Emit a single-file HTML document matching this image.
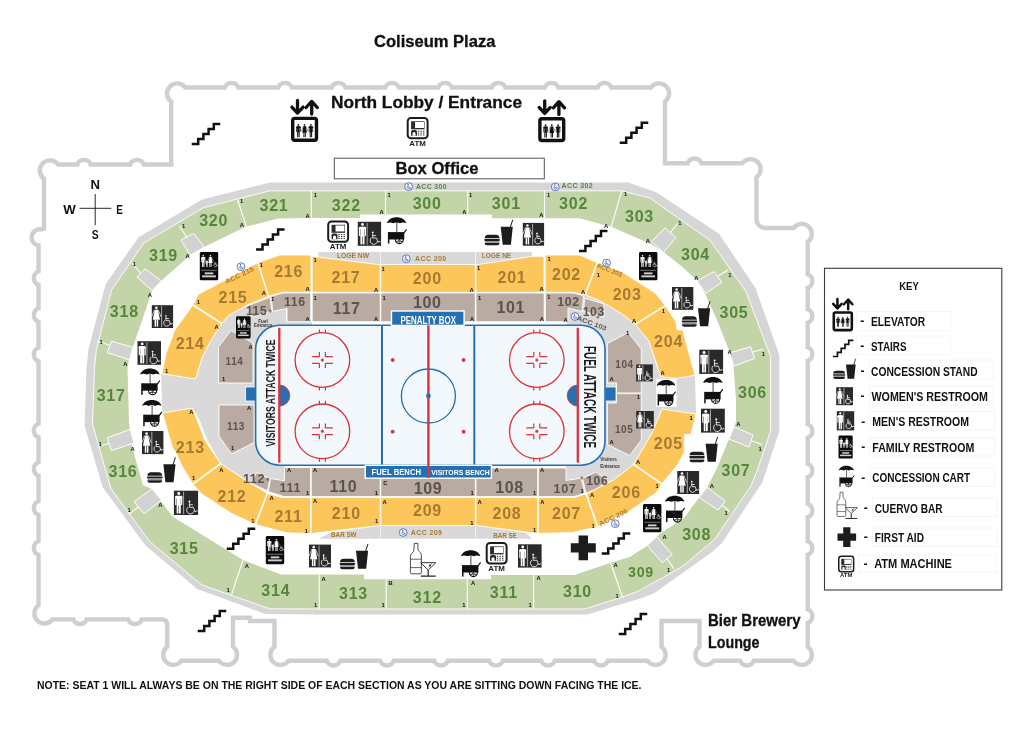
<!DOCTYPE html>
<html><head><meta charset="utf-8"><title>Coliseum Seating Map</title>
<style>html,body{margin:0;padding:0;background:#fff}svg{display:block;will-change:transform;opacity:0.999}text{font-family:"Liberation Sans",sans-serif}</style>
</head><body>
<svg width="1024" height="736" viewBox="0 0 1024 736">
<rect width="1024" height="736" fill="#fff"/>
<path d="M171.20,101.62 A10.1,10.1 0 1 1 185.32,87.50 L224.70,87.50 A7.3,7.3 0 0 1 238.30,87.50 L278.20,87.50 A7.3,7.3 0 0 1 291.80,87.50 L331.70,87.50 A7.3,7.3 0 0 1 345.30,87.50 L385.20,87.50 A7.3,7.3 0 0 1 398.80,87.50 L438.20,87.50 A7.3,7.3 0 0 1 451.80,87.50 L491.70,87.50 A7.3,7.3 0 0 1 505.30,87.50 L544.70,87.50 A7.3,7.3 0 0 1 558.30,87.50 L597.70,87.50 A7.3,7.3 0 0 1 611.30,87.50 L650.88,87.50 A10.1,10.1 0 1 1 665.00,101.62 L665.00,163.20 L687.70,163.20 A7.3,7.3 0 0 1 701.30,163.20 L742.38,163.20 A10.1,10.1 0 1 1 756.50,177.32 L756.50,219.00 A9.0,9.0 0 0 0 765.50,228.00 L793.58,228.00 A10.1,10.1 0 1 1 807.70,242.12 L807.70,274.20 A7.3,7.3 0 0 1 807.70,287.80 L807.70,309.20 A7.3,7.3 0 0 1 807.70,322.80 L807.70,347.20 A7.3,7.3 0 0 1 807.70,360.80 L807.70,424.20 A7.3,7.3 0 0 1 807.70,437.80 L807.70,463.70 A7.3,7.3 0 0 1 807.70,477.30 L807.70,503.70 A7.3,7.3 0 0 1 807.70,517.30 L807.70,541.20 A7.3,7.3 0 0 1 807.70,554.80 L807.70,609.20 A7.3,7.3 0 0 1 807.70,622.80 L807.70,646.68 A10.1,10.1 0 1 1 793.58,660.80 L753.80,660.80 A7.3,7.3 0 0 1 740.20,660.80 L713.62,660.80 A10.1,10.1 0 1 1 699.50,646.68 L699.50,621.00 L661.50,621.00 L661.50,646.68 A10.1,10.1 0 1 1 647.38,660.80 L607.80,660.80 A7.3,7.3 0 0 1 594.20,660.80 L554.80,660.80 A7.3,7.3 0 0 1 541.20,660.80 L502.80,660.80 A7.3,7.3 0 0 1 489.20,660.80 L447.80,660.80 A7.3,7.3 0 0 1 434.20,660.80 L393.80,660.80 A7.3,7.3 0 0 1 380.20,660.80 L340.30,660.80 A7.3,7.3 0 0 1 326.70,660.80 L288.62,660.80 A10.1,10.1 0 1 1 274.50,646.68 L274.50,621.00 L250.00,621.00 L250.00,617.80 L233.00,617.80 L233.00,646.68 A10.1,10.1 0 1 1 218.88,660.80 L181.42,660.80 A10.1,10.1 0 1 1 167.30,646.68 L167.30,624.40 A5.0,5.0 0 0 0 162.30,619.40 L141.80,619.40 A7.3,7.3 0 0 1 128.20,619.40 L86.80,619.40 A7.3,7.3 0 0 1 73.20,619.40 L52.62,619.40 A10.1,10.1 0 1 1 38.50,605.28 L38.50,554.80 A7.3,7.3 0 0 1 38.50,541.20 L38.50,514.80 A7.3,7.3 0 0 1 38.50,501.20 L38.50,475.80 A7.3,7.3 0 0 1 38.50,462.20 L38.50,437.30 A7.3,7.3 0 0 1 38.50,423.70 L38.50,361.40 A7.3,7.3 0 0 1 38.50,347.80 L38.50,321.80 A7.3,7.3 0 0 1 38.50,308.20 L38.50,284.80 A7.3,7.3 0 0 1 38.50,271.20 L38.50,245.50 A7.6,7.6 0 1 1 41.00,229.40 L44.00,228.60 L44.00,178.62 A10.1,10.1 0 1 1 58.12,164.50 L77.20,164.50 A7.3,7.3 0 0 1 90.80,164.50 L130.20,164.50 A7.3,7.3 0 0 1 143.80,164.50 L171.20,164.50 Z" fill="none" stroke="#cfcfcf" stroke-width="4.4" stroke-linejoin="miter"/>
<polygon points="270.0,182.6 628.3,182.6 656.3,192.2 719.0,233.8 755.5,288.0 779.3,355.0 779.3,431.0 766.5,470.0 762.4,482.2 721.6,543.5 712.0,552.0 654.5,593.0 642.0,598.0 587.0,614.5 540.0,614.5 320.0,614.5 265.2,614.0 197.2,588.9 145.5,545.5 102.7,487.3 84.5,425.5 86.5,368.0 88.5,349.0 105.7,284.0 138.4,237.5 202.0,199.5" fill="#d6d6d6" />
<polygon points="270.0,190.8 621.5,190.8 649.8,198.0 710.1,240.4 746.0,291.6 770.6,356.6 770.6,431.0 757.3,470.0 751.2,485.3 715.5,538.4 699.5,552.0 682.9,565.9 667.0,575.3 652.0,583.5 640.0,590.4 622.0,597.2 584.5,609.0 540.0,609.0 320.0,609.0 269.8,608.8 201.9,585.0 149.6,541.4 110.8,488.4 92.5,424.0 94.5,368.0 96.3,350.3 111.5,290.0 143.9,243.0 203.6,207.6" fill="#c3d5a8" stroke="#fff" stroke-width="0.9" stroke-linejoin="round"/>
<polygon points="246.3,226.6 278.4,218.5 311.0,218.0 360.0,218.0 360.0,214.5 492.0,214.5 492.0,218.3 579.4,218.3 611.2,226.8 651.4,244.3 664.5,252.8 681.3,266.0 697.6,281.0 706.0,295.5 716.6,319.0 729.8,352.5 733.5,366.5 736.0,400.0 736.0,422.0 729.0,439.0 716.6,469.0 707.0,487.5 699.5,497.0 684.0,518.0 659.6,534.0 647.0,546.0 629.7,557.0 610.6,562.7 574.5,575.0 491.0,575.0 491.0,579.3 364.0,579.3 364.0,574.5 281.0,574.5 243.0,560.0 172.4,516.5 161.0,501.0 152.8,489.3 143.0,485.3 131.8,446.0 130.0,429.5 129.0,423.0 127.5,368.0 129.0,359.8 133.0,346.7 142.5,319.0 152.0,291.0 161.5,280.5 188.7,256.5 203.6,247.3" fill="#fff" />
<polygon points="181.0,240.0 193.6,233.4 204.5,247.0 190.0,255.0" fill="#d2d2d2" stroke="#fff" stroke-width="1"/>
<polygon points="137.0,277.0 145.0,268.8 161.5,281.0 152.0,290.5" fill="#d2d2d2" stroke="#fff" stroke-width="1"/>
<polygon points="107.3,352.6 111.5,341.2 133.0,347.4 129.6,359.9" fill="#d2d2d2" stroke="#fff" stroke-width="1"/>
<polygon points="107.0,437.9 130.0,429.5 134.0,443.0 111.5,450.6" fill="#d2d2d2" stroke="#fff" stroke-width="1"/>
<polygon points="134.0,501.5 152.0,489.0 161.5,500.0 144.0,513.8" fill="#d2d2d2" stroke="#fff" stroke-width="1"/>
<polygon points="651.4,241.6 665.0,228.0 675.9,237.5 663.6,252.4" fill="#d2d2d2" stroke="#fff" stroke-width="1"/>
<polygon points="697.0,281.0 714.0,271.5 722.0,282.3 705.8,293.2" fill="#d2d2d2" stroke="#fff" stroke-width="1"/>
<polygon points="729.4,353.0 750.6,346.7 754.7,358.4 734.3,366.0" fill="#d2d2d2" stroke="#fff" stroke-width="1"/>
<polygon points="734.0,426.8 753.0,435.0 749.0,447.0 729.0,439.0" fill="#d2d2d2" stroke="#fff" stroke-width="1"/>
<polygon points="707.0,487.4 725.6,501.0 718.0,510.0 699.0,497.4" fill="#d2d2d2" stroke="#fff" stroke-width="1"/>
<polygon points="656.8,536.8 672.3,554.5 662.3,562.7 647.3,545.5" fill="#d2d2d2" stroke="#fff" stroke-width="1"/>
<line x1="237.6" y1="200.0" x2="246.3" y2="226.6" stroke="#fff" stroke-width="1.1"/>
<line x1="311.3" y1="190.8" x2="311.3" y2="218.2" stroke="#fff" stroke-width="1.1"/>
<line x1="385.5" y1="190.8" x2="385.5" y2="214.6" stroke="#fff" stroke-width="1.1"/>
<line x1="467.8" y1="190.8" x2="467.8" y2="214.6" stroke="#fff" stroke-width="1.1"/>
<line x1="544.5" y1="190.8" x2="544.5" y2="218.4" stroke="#fff" stroke-width="1.1"/>
<line x1="621.7" y1="190.8" x2="611.2" y2="226.8" stroke="#fff" stroke-width="1.1"/>
<line x1="186.5" y1="237.0" x2="179.5" y2="226.0" stroke="#fff" stroke-width="1.1"/>
<line x1="140.5" y1="273.0" x2="132.0" y2="263.0" stroke="#fff" stroke-width="1.1"/>
<line x1="109.0" y1="345.0" x2="97.0" y2="341.0" stroke="#fff" stroke-width="1.1"/>
<line x1="108.5" y1="443.5" x2="98.5" y2="446.5" stroke="#fff" stroke-width="1.1"/>
<line x1="138.5" y1="507.0" x2="129.0" y2="514.0" stroke="#fff" stroke-width="1.1"/>
<line x1="243.0" y1="560.0" x2="231.5" y2="594.8" stroke="#fff" stroke-width="1.1"/>
<line x1="319.3" y1="574.5" x2="319.3" y2="609.0" stroke="#fff" stroke-width="1.1"/>
<line x1="386.2" y1="579.3" x2="386.2" y2="609.0" stroke="#fff" stroke-width="1.1"/>
<line x1="467.3" y1="579.3" x2="467.3" y2="609.0" stroke="#fff" stroke-width="1.1"/>
<line x1="533.6" y1="575.0" x2="533.6" y2="609.0" stroke="#fff" stroke-width="1.1"/>
<line x1="610.6" y1="562.7" x2="622.5" y2="597.0" stroke="#fff" stroke-width="1.1"/>
<line x1="667.0" y1="558.5" x2="674.0" y2="569.0" stroke="#fff" stroke-width="1.1"/>
<line x1="722.5" y1="505.5" x2="729.5" y2="511.5" stroke="#fff" stroke-width="1.1"/>
<line x1="752.0" y1="441.0" x2="762.5" y2="444.5" stroke="#fff" stroke-width="1.1"/>
<line x1="753.0" y1="352.0" x2="763.5" y2="349.0" stroke="#fff" stroke-width="1.1"/>
<line x1="718.0" y1="276.0" x2="728.0" y2="270.0" stroke="#fff" stroke-width="1.1"/>
<line x1="670.4" y1="232.5" x2="677.5" y2="223.5" stroke="#fff" stroke-width="1.1"/>
<polygon points="318.5,252.0 380.2,252.0 380.2,264.8 318.5,257.1" fill="#d9d9d9" />
<polygon points="380.8,252.0 475.3,252.0 475.3,264.5 380.8,264.5" fill="#d9d9d9" />
<polygon points="476.0,252.0 532.0,252.0 532.0,257.6 476.0,264.8" fill="#d9d9d9" />
<polygon points="318.5,538.7 380.2,538.7 380.2,525.5 330.0,533.0" fill="#d9d9d9" />
<polygon points="380.8,538.7 475.3,538.7 475.3,525.5 380.8,525.5" fill="#d9d9d9" />
<polygon points="476.0,538.7 532.0,538.7 526.0,533.0 476.0,525.5" fill="#d9d9d9" />
<polygon points="272.0,296.0 286.0,296.0 286.0,322.0 312.0,322.0 312.0,345.0 292.0,345.0 292.0,448.0 285.0,448.0 285.0,480.0 268.0,492.0 243.0,478.4 220.8,463.5 207.7,440.4 199.6,420.0 192.5,408.0 162.5,413.0 161.0,373.5 195.7,379.0 202.0,358.0 210.0,342.0 222.0,323.7 228.0,316.0 248.0,304.5 270.0,296.3" fill="#d9d9d9" />
<polygon points="567.0,296.0 586.0,294.0 601.0,301.4 621.5,313.6 635.0,324.0 648.7,340.8 659.6,375.0 661.0,377.0 695.0,375.5 696.0,414.0 662.0,409.0 652.0,433.0 633.8,464.0 613.4,480.0 586.0,493.4 566.0,482.0 566.0,448.0 572.0,448.0 572.0,345.0 567.0,345.0" fill="#d9d9d9" />
<polygon points="258.0,262.5 279.7,255.0 311.0,255.0 311.0,292.3 283.0,292.3 268.9,296.3" fill="#fdc65b" stroke="#fff" stroke-width="0.9" stroke-linejoin="round"/>
<polygon points="312.2,256.3 380.2,264.8 380.2,292.3 312.2,292.3" fill="#fdc65b" stroke="#fff" stroke-width="0.9" stroke-linejoin="round"/>
<polygon points="380.8,264.5 475.3,264.5 475.3,292.3 380.8,292.3" fill="#fdc65b" stroke="#fff" stroke-width="0.9" stroke-linejoin="round"/>
<polygon points="476.0,264.8 532.5,256.3 544.0,256.3 544.0,292.3 476.0,292.3" fill="#fdc65b" stroke="#fff" stroke-width="0.9" stroke-linejoin="round"/>
<polygon points="545.2,255.0 579.4,255.0 597.0,262.5 584.8,294.6 573.0,292.3 545.2,292.3" fill="#fdc65b" stroke="#fff" stroke-width="0.9" stroke-linejoin="round"/>
<polygon points="597.6,262.8 621.5,271.5 655.5,293.2 665.0,305.4 635.0,324.0 621.5,313.6 601.0,301.4 585.5,294.9" fill="#fdc65b" stroke="#fff" stroke-width="0.9" stroke-linejoin="round"/>
<polygon points="665.5,306.0 675.9,321.7 677.2,329.9 682.7,329.9 695.0,375.3 677.0,378.3 661.0,376.8 648.7,340.8 635.5,324.6" fill="#fdc65b" stroke="#fff" stroke-width="0.9" stroke-linejoin="round"/>
<polygon points="662.0,409.0 696.0,414.0 691.0,434.5 684.3,434.5 684.3,452.6 677.0,465.5 662.0,483.5 633.8,464.0 652.0,433.0" fill="#fdc65b" stroke="#fff" stroke-width="0.9" stroke-linejoin="round"/>
<polygon points="661.5,484.2 657.0,492.0 629.7,511.0 598.0,526.5 586.5,493.8 613.4,480.0 633.3,464.7" fill="#fdc65b" stroke="#fff" stroke-width="0.9" stroke-linejoin="round"/>
<polygon points="538.3,497.6 574.0,497.6 585.7,494.0 597.2,526.8 572.6,532.5 538.3,533.5" fill="#fdc65b" stroke="#fff" stroke-width="0.9" stroke-linejoin="round"/>
<polygon points="476.0,497.6 537.7,497.6 537.7,533.5 476.0,525.5" fill="#fdc65b" stroke="#fff" stroke-width="0.9" stroke-linejoin="round"/>
<polygon points="380.8,497.6 475.3,497.6 475.3,525.5 380.8,525.5" fill="#fdc65b" stroke="#fff" stroke-width="0.9" stroke-linejoin="round"/>
<polygon points="311.2,497.6 380.2,497.6 380.2,525.5 311.2,533.6" fill="#fdc65b" stroke="#fff" stroke-width="0.9" stroke-linejoin="round"/>
<polygon points="267.8,493.4 282.0,497.6 310.6,497.6 310.6,533.6 286.5,532.8 255.8,524.6" fill="#fdc65b" stroke="#fff" stroke-width="0.9" stroke-linejoin="round"/>
<polygon points="221.0,464.0 243.0,478.4 267.0,493.2 255.0,524.3 232.0,513.8 201.0,493.4 193.2,484.4" fill="#fdc65b" stroke="#fff" stroke-width="0.9" stroke-linejoin="round"/>
<polygon points="162.5,413.0 192.5,408.0 205.0,440.5 220.4,463.2 192.6,483.7 182.0,466.0 175.0,451.0 172.5,448.0" fill="#fdc65b" stroke="#fff" stroke-width="0.9" stroke-linejoin="round"/>
<polygon points="192.6,305.4 221.6,324.0 210.0,342.0 202.0,358.0 195.7,379.0 162.0,373.8 166.0,353.4 174.5,330.6" fill="#fdc65b" stroke="#fff" stroke-width="0.9" stroke-linejoin="round"/>
<polygon points="257.5,262.8 268.4,296.6 248.0,304.5 228.0,316.0 222.2,323.2 193.2,304.6 198.0,294.6" fill="#fdc65b" stroke="#fff" stroke-width="0.9" stroke-linejoin="round"/>
<polygon points="271.5,296.2 283.0,293.0 310.8,293.0 310.8,321.7 287.0,321.7 287.0,308.5 272.5,311.3" fill="#b9aba1" stroke="#fff" stroke-width="0.9" stroke-linejoin="round"/>
<polygon points="312.2,293.0 380.2,293.0 380.2,321.7 312.2,321.7" fill="#b9aba1" stroke="#fff" stroke-width="0.9" stroke-linejoin="round"/>
<polygon points="380.8,293.0 475.3,293.0 475.3,321.7 380.8,321.7" fill="#b9aba1" stroke="#fff" stroke-width="0.9" stroke-linejoin="round"/>
<polygon points="476.0,293.0 544.2,293.0 544.2,321.7 476.0,321.7" fill="#b9aba1" stroke="#fff" stroke-width="0.9" stroke-linejoin="round"/>
<polygon points="545.3,293.0 574.0,293.0 583.5,296.0 582.0,311.5 568.0,308.0 568.0,321.7 545.3,321.7" fill="#b9aba1" stroke="#fff" stroke-width="0.9" stroke-linejoin="round"/>
<polygon points="584.8,298.2 603.9,304.0 603.9,317.0 583.5,311.2" fill="#b9aba1" stroke="#fff" stroke-width="0.9" stroke-linejoin="round"/>
<polygon points="607.4,343.5 628.3,332.6 641.3,349.0 641.3,393.0 616.5,393.0 616.5,383.0 607.4,383.0" fill="#b9aba1" stroke="#fff" stroke-width="0.9" stroke-linejoin="round"/>
<polygon points="607.4,403.0 616.5,403.0 616.5,393.6 641.3,393.6 641.3,440.0 629.7,455.5 607.4,444.5" fill="#b9aba1" stroke="#fff" stroke-width="0.9" stroke-linejoin="round"/>
<polygon points="582.5,478.2 596.0,472.0 608.0,481.0 597.0,488.5 586.0,493.2" fill="#b9aba1" stroke="#fff" stroke-width="0.9" stroke-linejoin="round"/>
<polygon points="538.3,468.0 566.0,468.0 566.0,480.5 581.0,478.2 585.0,493.0 574.0,496.6 538.3,496.6" fill="#b9aba1" stroke="#fff" stroke-width="0.9" stroke-linejoin="round"/>
<polygon points="476.0,468.0 537.7,468.0 537.7,496.6 476.0,496.6" fill="#b9aba1" stroke="#fff" stroke-width="0.9" stroke-linejoin="round"/>
<polygon points="380.8,468.0 475.3,468.0 475.3,496.6 380.8,496.6" fill="#b9aba1" stroke="#fff" stroke-width="0.9" stroke-linejoin="round"/>
<polygon points="311.2,467.5 380.2,467.5 380.2,496.6 311.2,496.6" fill="#b9aba1" stroke="#fff" stroke-width="0.9" stroke-linejoin="round"/>
<polygon points="284.5,467.5 310.6,467.5 310.6,496.6 283.8,496.6 268.3,491.5 270.5,478.6 284.5,480.8" fill="#b9aba1" stroke="#fff" stroke-width="0.9" stroke-linejoin="round"/>
<polygon points="251.5,483.3 256.7,472.3 269.8,479.0 267.5,491.0" fill="#b9aba1" stroke="#fff" stroke-width="0.9" stroke-linejoin="round"/>
<polygon points="219.0,405.0 254.0,405.0 254.0,442.5 231.5,454.0 219.0,436.0" fill="#b9aba1" stroke="#fff" stroke-width="0.9" stroke-linejoin="round"/>
<polygon points="218.5,347.0 231.0,330.5 253.0,343.0 253.0,383.0 218.5,383.0" fill="#b9aba1" stroke="#fff" stroke-width="0.9" stroke-linejoin="round"/>
<polygon points="246.8,306.2 270.0,297.3 271.8,310.6 253.0,317.3 249.5,312.5" fill="#b9aba1" stroke="#fff" stroke-width="0.9" stroke-linejoin="round"/>
<line x1="617" y1="393.3" x2="641" y2="393.3" stroke="#eee" stroke-width="0.9" stroke-dasharray="2.6,1.4"/>
<rect x="245.5" y="387" width="11" height="14" fill="#2470b3" stroke="#fff" stroke-width="0.8"/>
<rect x="605" y="387" width="11" height="14" fill="#2470b3" stroke="#fff" stroke-width="0.8"/>
<rect x="255.6" y="325.3" width="349.4" height="139.9" rx="24" ry="24" fill="#f3f8fc" stroke="#2470b3" stroke-width="1.6"/>
<path d="M279.3,385.0 a10.6,10.6 0 0 1 0,21.2 z" fill="#2470b3" stroke="#dc3238" stroke-width="0.8"/>
<path d="M577.8,385.0 a10.6,10.6 0 0 0 0,21.2 z" fill="#2470b3" stroke="#dc3238" stroke-width="0.8"/>
<line x1="279.3" y1="327.8" x2="279.3" y2="462.7" stroke="#dc3238" stroke-width="2.3"/>
<line x1="577.8" y1="327.8" x2="577.8" y2="462.7" stroke="#dc3238" stroke-width="2.3"/>
<line x1="382.0" y1="325.3" x2="382.0" y2="465.2" stroke="#2470b3" stroke-width="2"/>
<line x1="474.3" y1="325.3" x2="474.3" y2="465.2" stroke="#2470b3" stroke-width="2"/>
<circle cx="428.4" cy="396.0" r="27" fill="none" stroke="#2470b3" stroke-width="1.3"/>
<circle cx="322.4" cy="360.0" r="27.3" fill="none" stroke="#dc3238" stroke-width="1.3"/>
<circle cx="322.4" cy="360.0" r="1.5" fill="#dc3238"/>
<path d="M319.4,356.6 h-7.5 M319.4,356.6 v-4.5 M319.4,363.4 h-7.5 M319.4,363.4 v4.5 M319.4,332.7 v-3.2 M319.4,387.3 v3.2 M325.4,356.6 h7.5 M325.4,356.6 v-4.5 M325.4,363.4 h7.5 M325.4,363.4 v4.5 M325.4,332.7 v-3.2 M325.4,387.3 v3.2 " stroke="#dc3238" stroke-width="1.2" fill="none"/>
<circle cx="322.4" cy="431.3" r="27.3" fill="none" stroke="#dc3238" stroke-width="1.3"/>
<circle cx="322.4" cy="431.3" r="1.5" fill="#dc3238"/>
<path d="M319.4,427.9 h-7.5 M319.4,427.9 v-4.5 M319.4,434.7 h-7.5 M319.4,434.7 v4.5 M319.4,404.0 v-3.2 M319.4,458.6 v3.2 M325.4,427.9 h7.5 M325.4,427.9 v-4.5 M325.4,434.7 h7.5 M325.4,434.7 v4.5 M325.4,404.0 v-3.2 M325.4,458.6 v3.2 " stroke="#dc3238" stroke-width="1.2" fill="none"/>
<circle cx="536.8" cy="360.0" r="27.3" fill="none" stroke="#dc3238" stroke-width="1.3"/>
<circle cx="536.8" cy="360.0" r="1.5" fill="#dc3238"/>
<path d="M533.8,356.6 h-7.5 M533.8,356.6 v-4.5 M533.8,363.4 h-7.5 M533.8,363.4 v4.5 M533.8,332.7 v-3.2 M533.8,387.3 v3.2 M539.8,356.6 h7.5 M539.8,356.6 v-4.5 M539.8,363.4 h7.5 M539.8,363.4 v4.5 M539.8,332.7 v-3.2 M539.8,387.3 v3.2 " stroke="#dc3238" stroke-width="1.2" fill="none"/>
<circle cx="536.8" cy="431.3" r="27.3" fill="none" stroke="#dc3238" stroke-width="1.3"/>
<circle cx="536.8" cy="431.3" r="1.5" fill="#dc3238"/>
<path d="M533.8,427.9 h-7.5 M533.8,427.9 v-4.5 M533.8,434.7 h-7.5 M533.8,434.7 v4.5 M533.8,404.0 v-3.2 M533.8,458.6 v3.2 M539.8,427.9 h7.5 M539.8,427.9 v-4.5 M539.8,434.7 h7.5 M539.8,434.7 v4.5 M539.8,404.0 v-3.2 M539.8,458.6 v3.2 " stroke="#dc3238" stroke-width="1.2" fill="none"/>
<circle cx="392.7" cy="360.0" r="1.9" fill="#dc3238"/>
<circle cx="392.7" cy="431.7" r="1.9" fill="#dc3238"/>
<circle cx="463.6" cy="360.0" r="1.9" fill="#dc3238"/>
<circle cx="463.6" cy="431.7" r="1.9" fill="#dc3238"/>
<rect x="391.5" y="311.0" width="72.6" height="14.4" fill="#2470b3" stroke="#fff" stroke-width="1.4"/>
<text x="428.2" y="323.6" font-size="11.3" fill="#fff" text-anchor="middle" font-weight="bold" textLength="55.5" lengthAdjust="spacingAndGlyphs" >PENALTY BOX</text>
<rect x="365.2" y="465.3" width="126.2" height="12.9" fill="#2470b3" stroke="#fff" stroke-width="1.4"/>
<line x1="428.4" y1="325.3" x2="428.4" y2="478" stroke="#dc3238" stroke-width="2.4"/>
<circle cx="428.4" cy="396.0" r="2.4" fill="#2470b3"/>
<text x="396.3" y="475.2" font-size="9.0" fill="#fff" text-anchor="middle" font-weight="bold" textLength="49.5" lengthAdjust="spacingAndGlyphs" >FUEL BENCH</text>
<text x="460.5" y="474.9" font-size="7.6" fill="#fff" text-anchor="middle" font-weight="bold" textLength="58.5" lengthAdjust="spacingAndGlyphs" >VISITORS BENCH</text>
<text x="274.9" y="393.0" font-size="12.8" fill="#1a1a1a" text-anchor="middle" font-weight="bold" textLength="107.0" lengthAdjust="spacingAndGlyphs" transform="rotate(-90 274.9 393.0)" >VISITORS ATTACK TWICE</text>
<text x="583.9" y="397.0" font-size="17" fill="#1a1a1a" text-anchor="middle" font-weight="bold" textLength="102.0" lengthAdjust="spacingAndGlyphs" transform="rotate(90 583.9 397.0)" >FUEL ATTACK TWICE</text>
<path d="M193.0,144.0 h5.20 v-5.00 h5.20 v-5.00 h5.20 v-5.00 h5.20 v-5.00 h5.20" fill="none" stroke="#111" stroke-width="2.5" stroke-linecap="square"/>
<path d="M621.0,142.7 h5.20 v-5.00 h5.20 v-5.00 h5.20 v-5.00 h5.20 v-5.00 h5.20" fill="none" stroke="#111" stroke-width="2.5" stroke-linecap="square"/>
<path d="M257.3,249.5 h5.20 v-5.00 h5.20 v-5.00 h5.20 v-5.00 h5.20 v-5.00 h5.20" fill="none" stroke="#111" stroke-width="2.5" stroke-linecap="square"/>
<path d="M580.2,251.0 h5.20 v-5.00 h5.20 v-5.00 h5.20 v-5.00 h5.20 v-5.00 h5.20" fill="none" stroke="#111" stroke-width="2.5" stroke-linecap="square"/>
<path d="M228.0,548.8 h5.20 v-5.00 h5.20 v-5.00 h5.20 v-5.00 h5.20 v-5.00 h5.20" fill="none" stroke="#111" stroke-width="2.5" stroke-linecap="square"/>
<path d="M603.0,553.6 h5.20 v-5.00 h5.20 v-5.00 h5.20 v-5.00 h5.20 v-5.00 h5.20" fill="none" stroke="#111" stroke-width="2.5" stroke-linecap="square"/>
<path d="M199.0,631.0 h5.20 v-5.00 h5.20 v-5.00 h5.20 v-5.00 h5.20 v-5.00 h5.20" fill="none" stroke="#111" stroke-width="2.5" stroke-linecap="square"/>
<path d="M620.0,634.0 h5.20 v-5.00 h5.20 v-5.00 h5.20 v-5.00 h5.20 v-5.00 h5.20" fill="none" stroke="#111" stroke-width="2.5" stroke-linecap="square"/>
<g fill="none" stroke="#111" stroke-width="3.30" stroke-linecap="round" stroke-linejoin="round"><path d="M297.50,100.50 V111.70 M291.90,107.10 L297.50,113.10 L303.10,107.10"/><path d="M311.70,114.10 V102.70 M306.10,107.50 L311.70,101.40 L317.30,107.50"/></g>
<rect x="292.70" y="118.40" width="23.80" height="21.80" rx="2.00" fill="#fff" stroke="#111" stroke-width="3.40"/>
<circle cx="298.40" cy="124.90" r="0.90" fill="#111"/><rect x="296.20" y="126.27" width="4.41" height="1.72" rx="0.66" fill="#111"/><rect x="296.20" y="126.80" width="0.77" height="5.28" rx="0.37" fill="#111"/><rect x="299.84" y="126.80" width="0.77" height="5.28" rx="0.37" fill="#111"/><rect x="297.15" y="126.40" width="2.51" height="5.94" fill="#111"/><rect x="297.15" y="131.66" width="1.08" height="5.54" fill="#111"/><rect x="298.57" y="131.66" width="1.08" height="5.54" fill="#111"/>
<circle cx="304.60" cy="124.84" r="0.84" fill="#111"/><polygon points="303.54,126.11 305.66,126.11 306.95,132.71 302.25,132.71" fill="#111"/><path d="M303.28,126.38 L301.63,130.60 M305.92,126.38 L307.57,130.60" stroke="#111" stroke-width="0.45" stroke-linecap="round" fill="none"/><rect x="303.44" y="132.61" width="0.95" height="4.59" fill="#111"/><rect x="304.81" y="132.61" width="0.95" height="4.59" fill="#111"/>
<circle cx="310.90" cy="124.90" r="0.90" fill="#111"/><rect x="308.70" y="126.27" width="4.41" height="1.72" rx="0.66" fill="#111"/><rect x="308.70" y="126.80" width="0.77" height="5.28" rx="0.37" fill="#111"/><rect x="312.34" y="126.80" width="0.77" height="5.28" rx="0.37" fill="#111"/><rect x="309.65" y="126.40" width="2.51" height="5.94" fill="#111"/><rect x="309.65" y="131.66" width="1.08" height="5.54" fill="#111"/><rect x="311.07" y="131.66" width="1.08" height="5.54" fill="#111"/>
<g fill="none" stroke="#111" stroke-width="3.30" stroke-linecap="round" stroke-linejoin="round"><path d="M544.70,100.80 V112.00 M539.10,107.40 L544.70,113.40 L550.30,107.40"/><path d="M558.90,114.40 V103.00 M553.30,107.80 L558.90,101.70 L564.50,107.80"/></g>
<rect x="539.90" y="118.70" width="23.80" height="21.80" rx="2.00" fill="#fff" stroke="#111" stroke-width="3.40"/>
<circle cx="545.60" cy="125.20" r="0.90" fill="#111"/><rect x="543.40" y="126.57" width="4.41" height="1.72" rx="0.66" fill="#111"/><rect x="543.40" y="127.10" width="0.77" height="5.28" rx="0.37" fill="#111"/><rect x="547.04" y="127.10" width="0.77" height="5.28" rx="0.37" fill="#111"/><rect x="544.35" y="126.70" width="2.51" height="5.94" fill="#111"/><rect x="544.35" y="131.96" width="1.08" height="5.54" fill="#111"/><rect x="545.77" y="131.96" width="1.08" height="5.54" fill="#111"/>
<circle cx="551.80" cy="125.14" r="0.84" fill="#111"/><polygon points="550.74,126.41 552.86,126.41 554.15,133.01 549.45,133.01" fill="#111"/><path d="M550.48,126.68 L548.83,130.90 M553.12,126.68 L554.77,130.90" stroke="#111" stroke-width="0.45" stroke-linecap="round" fill="none"/><rect x="550.64" y="132.91" width="0.95" height="4.59" fill="#111"/><rect x="552.01" y="132.91" width="0.95" height="4.59" fill="#111"/>
<circle cx="558.10" cy="125.20" r="0.90" fill="#111"/><rect x="555.90" y="126.57" width="4.41" height="1.72" rx="0.66" fill="#111"/><rect x="555.90" y="127.10" width="0.77" height="5.28" rx="0.37" fill="#111"/><rect x="559.54" y="127.10" width="0.77" height="5.28" rx="0.37" fill="#111"/><rect x="556.85" y="126.70" width="2.51" height="5.94" fill="#111"/><rect x="556.85" y="131.96" width="1.08" height="5.54" fill="#111"/><rect x="558.27" y="131.96" width="1.08" height="5.54" fill="#111"/>
<rect x="407.70" y="117.90" width="19.90" height="20.40" rx="3.30" fill="#fff" stroke="#1d1b1b" stroke-width="2.00"/>
<rect x="411.10" y="121.30" width="13.40" height="8.00" fill="#2a2828"/>
<rect x="415.00" y="122.00" width="9.00" height="6.00" fill="#fff"/>
<path d="M411.10,135.70 v-4.20 a1.50,1.50 0 0 1 1.50,-1.50 h2.90 a1.50,1.50 0 0 1 1.50,1.50 v4.20 z" fill="#2a2828"/>
<path d="M412.50,135.80 v-2.20 a1.55,1.55 0 0 1 3.10,0 v2.20 z" fill="#fff"/>
<rect x="417.80" y="130.70" width="1.40" height="1.00" fill="#2a2828"/>
<rect x="417.80" y="132.60" width="1.40" height="1.00" fill="#2a2828"/>
<rect x="417.80" y="134.50" width="1.40" height="1.00" fill="#2a2828"/>
<rect x="420.40" y="130.70" width="1.40" height="1.00" fill="#2a2828"/>
<rect x="420.40" y="132.60" width="1.40" height="1.00" fill="#2a2828"/>
<rect x="420.40" y="134.50" width="1.40" height="1.00" fill="#2a2828"/>
<rect x="423.00" y="130.70" width="1.40" height="1.00" fill="#2a2828"/>
<rect x="423.00" y="132.60" width="1.40" height="1.00" fill="#2a2828"/>
<rect x="423.00" y="134.50" width="1.40" height="1.00" fill="#2a2828"/>
<text x="417.65" y="145.80" font-size="6.3" fill="#1d1b1b" text-anchor="middle" font-weight="bold" textLength="16.6" lengthAdjust="spacingAndGlyphs">ATM</text>
<rect x="328.20" y="221.40" width="19.90" height="20.40" rx="3.30" fill="#fff" stroke="#1d1b1b" stroke-width="2.00"/>
<rect x="331.60" y="224.80" width="13.40" height="8.00" fill="#2a2828"/>
<rect x="335.50" y="225.50" width="9.00" height="6.00" fill="#fff"/>
<path d="M331.60,239.20 v-4.20 a1.50,1.50 0 0 1 1.50,-1.50 h2.90 a1.50,1.50 0 0 1 1.50,1.50 v4.20 z" fill="#2a2828"/>
<path d="M333.00,239.30 v-2.20 a1.55,1.55 0 0 1 3.10,0 v2.20 z" fill="#fff"/>
<rect x="338.30" y="234.20" width="1.40" height="1.00" fill="#2a2828"/>
<rect x="338.30" y="236.10" width="1.40" height="1.00" fill="#2a2828"/>
<rect x="338.30" y="238.00" width="1.40" height="1.00" fill="#2a2828"/>
<rect x="340.90" y="234.20" width="1.40" height="1.00" fill="#2a2828"/>
<rect x="340.90" y="236.10" width="1.40" height="1.00" fill="#2a2828"/>
<rect x="340.90" y="238.00" width="1.40" height="1.00" fill="#2a2828"/>
<rect x="343.50" y="234.20" width="1.40" height="1.00" fill="#2a2828"/>
<rect x="343.50" y="236.10" width="1.40" height="1.00" fill="#2a2828"/>
<rect x="343.50" y="238.00" width="1.40" height="1.00" fill="#2a2828"/>
<text x="338.15" y="249.30" font-size="6.3" fill="#1d1b1b" text-anchor="middle" font-weight="bold" textLength="16.6" lengthAdjust="spacingAndGlyphs">ATM</text>
<rect x="486.70" y="543.00" width="19.90" height="20.40" rx="3.30" fill="#fff" stroke="#1d1b1b" stroke-width="2.00"/>
<rect x="490.10" y="546.40" width="13.40" height="8.00" fill="#2a2828"/>
<rect x="494.00" y="547.10" width="9.00" height="6.00" fill="#fff"/>
<path d="M490.10,560.80 v-4.20 a1.50,1.50 0 0 1 1.50,-1.50 h2.90 a1.50,1.50 0 0 1 1.50,1.50 v4.20 z" fill="#2a2828"/>
<path d="M491.50,560.90 v-2.20 a1.55,1.55 0 0 1 3.10,0 v2.20 z" fill="#fff"/>
<rect x="496.80" y="555.80" width="1.40" height="1.00" fill="#2a2828"/>
<rect x="496.80" y="557.70" width="1.40" height="1.00" fill="#2a2828"/>
<rect x="496.80" y="559.60" width="1.40" height="1.00" fill="#2a2828"/>
<rect x="499.40" y="555.80" width="1.40" height="1.00" fill="#2a2828"/>
<rect x="499.40" y="557.70" width="1.40" height="1.00" fill="#2a2828"/>
<rect x="499.40" y="559.60" width="1.40" height="1.00" fill="#2a2828"/>
<rect x="502.00" y="555.80" width="1.40" height="1.00" fill="#2a2828"/>
<rect x="502.00" y="557.70" width="1.40" height="1.00" fill="#2a2828"/>
<rect x="502.00" y="559.60" width="1.40" height="1.00" fill="#2a2828"/>
<text x="496.65" y="570.90" font-size="6.3" fill="#1d1b1b" text-anchor="middle" font-weight="bold" textLength="16.6" lengthAdjust="spacingAndGlyphs">ATM</text>
<rect x="357.8" y="221.8" width="23.3" height="24.0" fill="#2b2a2a"/>
<circle cx="362.46" cy="224.56" r="1.44" fill="#fff"/><rect x="358.91" y="226.77" width="7.09" height="2.76" rx="1.06" fill="#fff"/><rect x="358.91" y="227.62" width="1.23" height="8.50" rx="0.59" fill="#fff"/><rect x="364.78" y="227.62" width="1.23" height="8.50" rx="0.59" fill="#fff"/><rect x="360.44" y="226.99" width="4.04" height="9.56" fill="#fff"/><rect x="360.44" y="235.44" width="1.74" height="8.92" fill="#fff"/><rect x="362.74" y="235.44" width="1.74" height="8.92" fill="#fff"/>
<line x1="367.12" y1="222.8" x2="367.12" y2="244.8" stroke="#ddd" stroke-width="0.7"/>
<g fill="none" stroke="#fff" stroke-width="0.80" stroke-linecap="round" stroke-linejoin="round"><circle cx="372.75" cy="232.36" r="0.95" fill="#fff" stroke="none"/><path d="M372.75,233.71 L372.75,238.04 L376.54,238.04 L378.02,242.09 L380.19,241.55 M372.75,235.60 L375.73,235.60"/><path d="M371.20,237.90 A3.78,3.78 0 1 0 377.48,241.55"/></g>
<path d="M386.90,223.30 C389.10,215.30 404.10,215.30 406.30,223.30 q-3.23,-1.70 -6.47,0 q-3.23,-1.70 -6.47,0 q-3.23,-1.70 -6.46,0 z" fill="#111"/>
<line x1="396.80" y1="221.80" x2="396.80" y2="232.40" stroke="#333" stroke-width="0.90"/>
<circle cx="399.30" cy="239.60" r="4.00" fill="#fff" stroke="#111" stroke-width="1.10"/>
<path d="M395.30,241.30 h8.00 M396.50,236.80 l5.60,5.60 M402.10,236.80 l-5.60,5.60 M399.30,235.60 v8.00" stroke="#111" stroke-width="0.60" fill="none"/>
<rect x="388.80" y="232.10" width="15.50" height="7.40" fill="#111"/>
<rect x="387.90" y="232.10" width="1.50" height="11.50" fill="#111"/>
<path d="M403.90,233.00 L406.20,229.80" fill="none" stroke="#111" stroke-width="1.20" stroke-linecap="round"/>
<path d="M484.70,238.30 q0,-3.60 3.60,-3.60 h7.60 q3.60,0 3.60,3.60 z" fill="#1d1b1b"/>
<rect x="484.30" y="239.00" width="15.60" height="1.90" rx="0.90" fill="#1d1b1b"/>
<rect x="485.00" y="241.10" width="14.20" height="1.30" fill="#8a8a8a"/>
<path d="M484.70,242.70 h14.80 q0,2.50 -2.50,2.50 h-9.80 q-2.50,0 -2.50,-2.50 z" fill="#1d1b1b"/>
<polygon points="500.70,226.80 512.80,226.80 510.90,244.80 502.70,244.80" fill="#1d1b1b"/>
<line x1="510.30" y1="227.30" x2="512.60" y2="220.20" stroke="#1d1b1b" stroke-width="1.00" stroke-linecap="round"/>
<rect x="522.8" y="222.9" width="21.3" height="22.8" fill="#2b2a2a"/>
<circle cx="527.38" cy="225.45" r="1.29" fill="#fff"/><polygon points="525.77,227.38 528.99,227.38 530.97,237.47 523.79,237.47" fill="#fff"/><path d="M525.36,227.79 L522.84,234.24 M529.40,227.79 L531.92,234.24" stroke="#fff" stroke-width="0.69" stroke-linecap="round" fill="none"/><rect x="525.60" y="237.37" width="1.45" height="6.96" fill="#fff"/><rect x="527.70" y="237.37" width="1.45" height="6.96" fill="#fff"/>
<line x1="532.60" y1="223.8" x2="532.60" y2="244.8" stroke="#ddd" stroke-width="0.7"/>
<g fill="none" stroke="#fff" stroke-width="0.80" stroke-linecap="round" stroke-linejoin="round"><circle cx="536.98" cy="233.41" r="0.82" fill="#fff" stroke="none"/><path d="M536.98,234.58 L536.98,238.33 L540.26,238.33 L541.54,241.85 L543.42,241.38 M536.98,236.22 L539.55,236.22"/><path d="M535.63,238.22 A3.28,3.28 0 1 0 541.08,241.38"/></g>
<rect x="199.8" y="252.0" width="18.4" height="28.3" rx="1.4" fill="#0c0c0c"/>
<circle cx="203.30" cy="255.82" r="0.82" fill="#fff"/><rect x="201.29" y="257.06" width="4.01" height="1.56" rx="0.60" fill="#fff"/><rect x="201.29" y="257.54" width="0.70" height="4.80" rx="0.34" fill="#fff"/><rect x="204.60" y="257.54" width="0.70" height="4.80" rx="0.34" fill="#fff"/><rect x="202.16" y="257.18" width="2.28" height="5.40" fill="#fff"/><rect x="202.16" y="261.96" width="0.98" height="5.04" fill="#fff"/><rect x="203.45" y="261.96" width="0.98" height="5.04" fill="#fff"/>
<circle cx="210.47" cy="255.77" r="0.77" fill="#fff"/><polygon points="209.51,256.92 211.43,256.92 212.61,262.92 208.34,262.92" fill="#fff"/><path d="M209.27,257.16 L207.77,261.00 M211.67,257.16 L213.17,261.00" stroke="#fff" stroke-width="0.41" stroke-linecap="round" fill="none"/><rect x="209.42" y="262.82" width="0.86" height="4.18" fill="#fff"/><rect x="210.66" y="262.82" width="0.86" height="4.18" fill="#fff"/>
<circle cx="206.88" cy="260.66" r="0.46" fill="#fff"/><rect x="205.75" y="261.37" width="2.27" height="0.88" rx="0.34" fill="#fff"/><rect x="205.75" y="261.64" width="0.39" height="2.72" rx="0.19" fill="#fff"/><rect x="207.63" y="261.64" width="0.39" height="2.72" rx="0.19" fill="#fff"/><rect x="206.24" y="261.44" width="1.29" height="3.06" fill="#fff"/><rect x="206.24" y="264.14" width="0.56" height="2.86" fill="#fff"/><rect x="206.97" y="264.14" width="0.56" height="2.86" fill="#fff"/>
<g fill="none" stroke="#fff" stroke-width="0.50" stroke-linecap="round" stroke-linejoin="round"><circle cx="214.92" cy="262.03" r="0.38" fill="#fff" stroke="none"/><path d="M214.92,262.57 L214.92,264.30 L216.43,264.30 L217.02,265.92 L217.89,265.70 M214.92,263.33 L216.11,263.33"/><path d="M214.30,264.25 A1.51,1.51 0 1 0 216.81,265.70"/></g>
<line x1="201.1" y1="270.3" x2="216.9" y2="270.3" stroke="#ddd" stroke-width="0.5"/>
<rect x="204.70" y="272.40" width="8.60" height="1.90" fill="#cfcfcf"/>
<rect x="202.10" y="275.40" width="13.80" height="1.90" fill="#cfcfcf"/>
<rect x="639.0" y="252.0" width="18.4" height="28.3" rx="1.4" fill="#0c0c0c"/>
<circle cx="642.50" cy="255.82" r="0.82" fill="#fff"/><rect x="640.49" y="257.06" width="4.01" height="1.56" rx="0.60" fill="#fff"/><rect x="640.49" y="257.54" width="0.70" height="4.80" rx="0.34" fill="#fff"/><rect x="643.80" y="257.54" width="0.70" height="4.80" rx="0.34" fill="#fff"/><rect x="641.36" y="257.18" width="2.28" height="5.40" fill="#fff"/><rect x="641.36" y="261.96" width="0.98" height="5.04" fill="#fff"/><rect x="642.65" y="261.96" width="0.98" height="5.04" fill="#fff"/>
<circle cx="649.67" cy="255.77" r="0.77" fill="#fff"/><polygon points="648.71,256.92 650.63,256.92 651.81,262.92 647.54,262.92" fill="#fff"/><path d="M648.47,257.16 L646.97,261.00 M650.87,257.16 L652.37,261.00" stroke="#fff" stroke-width="0.41" stroke-linecap="round" fill="none"/><rect x="648.62" y="262.82" width="0.86" height="4.18" fill="#fff"/><rect x="649.86" y="262.82" width="0.86" height="4.18" fill="#fff"/>
<circle cx="646.08" cy="260.66" r="0.46" fill="#fff"/><rect x="644.95" y="261.37" width="2.27" height="0.88" rx="0.34" fill="#fff"/><rect x="644.95" y="261.64" width="0.39" height="2.72" rx="0.19" fill="#fff"/><rect x="646.83" y="261.64" width="0.39" height="2.72" rx="0.19" fill="#fff"/><rect x="645.44" y="261.44" width="1.29" height="3.06" fill="#fff"/><rect x="645.44" y="264.14" width="0.56" height="2.86" fill="#fff"/><rect x="646.17" y="264.14" width="0.56" height="2.86" fill="#fff"/>
<g fill="none" stroke="#fff" stroke-width="0.50" stroke-linecap="round" stroke-linejoin="round"><circle cx="654.12" cy="262.03" r="0.38" fill="#fff" stroke="none"/><path d="M654.12,262.57 L654.12,264.30 L655.63,264.30 L656.22,265.92 L657.09,265.70 M654.12,263.33 L655.31,263.33"/><path d="M653.50,264.25 A1.51,1.51 0 1 0 656.01,265.70"/></g>
<line x1="640.3" y1="270.3" x2="656.1" y2="270.3" stroke="#ddd" stroke-width="0.5"/>
<rect x="643.90" y="272.40" width="8.60" height="1.90" fill="#cfcfcf"/>
<rect x="641.30" y="275.40" width="13.80" height="1.90" fill="#cfcfcf"/>
<rect x="151.8" y="305.2" width="21.3" height="22.8" fill="#2b2a2a"/>
<circle cx="156.38" cy="307.75" r="1.29" fill="#fff"/><polygon points="154.77,309.68 157.99,309.68 159.97,319.77 152.79,319.77" fill="#fff"/><path d="M154.36,310.09 L151.84,316.54 M158.40,310.09 L160.92,316.54" stroke="#fff" stroke-width="0.69" stroke-linecap="round" fill="none"/><rect x="154.60" y="319.67" width="1.45" height="6.96" fill="#fff"/><rect x="156.70" y="319.67" width="1.45" height="6.96" fill="#fff"/>
<line x1="161.60" y1="306.1" x2="161.60" y2="327.1" stroke="#ddd" stroke-width="0.7"/>
<g fill="none" stroke="#fff" stroke-width="0.80" stroke-linecap="round" stroke-linejoin="round"><circle cx="165.98" cy="315.71" r="0.82" fill="#fff" stroke="none"/><path d="M165.98,316.88 L165.98,320.63 L169.26,320.63 L170.54,324.15 L172.42,323.68 M165.98,318.52 L168.55,318.52"/><path d="M164.63,320.52 A3.28,3.28 0 1 0 170.08,323.68"/></g>
<rect x="137.5" y="341.2" width="23.5" height="23.6" fill="#2b2a2a"/>
<circle cx="142.20" cy="343.92" r="1.42" fill="#fff"/><rect x="138.71" y="346.09" width="6.98" height="2.72" rx="1.04" fill="#fff"/><rect x="138.71" y="346.93" width="1.21" height="8.35" rx="0.58" fill="#fff"/><rect x="144.48" y="346.93" width="1.21" height="8.35" rx="0.58" fill="#fff"/><rect x="140.22" y="346.30" width="3.97" height="9.40" fill="#fff"/><rect x="140.22" y="354.61" width="1.71" height="8.77" fill="#fff"/><rect x="142.47" y="354.61" width="1.71" height="8.77" fill="#fff"/>
<line x1="146.90" y1="342.1" x2="146.90" y2="363.9" stroke="#ddd" stroke-width="0.7"/>
<g fill="none" stroke="#fff" stroke-width="0.80" stroke-linecap="round" stroke-linejoin="round"><circle cx="152.58" cy="351.61" r="0.95" fill="#fff" stroke="none"/><path d="M152.58,352.98 L152.58,357.34 L156.40,357.34 L157.90,361.43 L160.08,360.88 M152.58,354.88 L155.58,354.88"/><path d="M151.01,357.20 A3.82,3.82 0 1 0 157.35,360.88"/></g>
<path d="M140.20,374.50 C142.40,366.50 157.40,366.50 159.60,374.50 q-3.23,-1.70 -6.47,0 q-3.23,-1.70 -6.47,0 q-3.23,-1.70 -6.46,0 z" fill="#111"/>
<line x1="150.10" y1="373.00" x2="150.10" y2="383.60" stroke="#333" stroke-width="0.90"/>
<circle cx="152.60" cy="390.80" r="4.00" fill="#fff" stroke="#111" stroke-width="1.10"/>
<path d="M148.60,392.50 h8.00 M149.80,388.00 l5.60,5.60 M155.40,388.00 l-5.60,5.60 M152.60,386.80 v8.00" stroke="#111" stroke-width="0.60" fill="none"/>
<rect x="142.10" y="383.30" width="15.50" height="7.40" fill="#111"/>
<rect x="141.20" y="383.30" width="1.50" height="11.50" fill="#111"/>
<path d="M157.20,384.20 L159.50,381.00" fill="none" stroke="#111" stroke-width="1.20" stroke-linecap="round"/>
<path d="M142.20,405.90 C144.40,397.90 159.40,397.90 161.60,405.90 q-3.23,-1.70 -6.47,0 q-3.23,-1.70 -6.47,0 q-3.23,-1.70 -6.46,0 z" fill="#111"/>
<line x1="152.10" y1="404.40" x2="152.10" y2="415.00" stroke="#333" stroke-width="0.90"/>
<circle cx="154.60" cy="422.20" r="4.00" fill="#fff" stroke="#111" stroke-width="1.10"/>
<path d="M150.60,423.90 h8.00 M151.80,419.40 l5.60,5.60 M157.40,419.40 l-5.60,5.60 M154.60,418.20 v8.00" stroke="#111" stroke-width="0.60" fill="none"/>
<rect x="144.10" y="414.70" width="15.50" height="7.40" fill="#111"/>
<rect x="143.20" y="414.70" width="1.50" height="11.50" fill="#111"/>
<path d="M159.20,415.60 L161.50,412.40" fill="none" stroke="#111" stroke-width="1.20" stroke-linecap="round"/>
<rect x="142.0" y="431.0" width="21.4" height="23.1" fill="#2b2a2a"/>
<circle cx="146.60" cy="433.58" r="1.31" fill="#fff"/><polygon points="144.97,435.54 148.24,435.54 150.24,445.76 142.96,445.76" fill="#fff"/><path d="M144.56,435.95 L142.00,442.49 M148.65,435.95 L151.20,442.49" stroke="#fff" stroke-width="0.70" stroke-linecap="round" fill="none"/><rect x="144.80" y="445.66" width="1.47" height="7.05" fill="#fff"/><rect x="146.93" y="445.66" width="1.47" height="7.05" fill="#fff"/>
<line x1="151.84" y1="431.9" x2="151.84" y2="453.2" stroke="#ddd" stroke-width="0.7"/>
<g fill="none" stroke="#fff" stroke-width="0.80" stroke-linecap="round" stroke-linejoin="round"><circle cx="156.24" cy="441.64" r="0.82" fill="#fff" stroke="none"/><path d="M156.24,442.82 L156.24,446.59 L159.54,446.59 L160.83,450.12 L162.72,449.65 M156.24,444.47 L158.83,444.47"/><path d="M154.89,446.47 A3.30,3.30 0 1 0 160.36,449.65"/></g>
<path d="M147.40,475.80 q0,-3.60 3.60,-3.60 h7.60 q3.60,0 3.60,3.60 z" fill="#1d1b1b"/>
<rect x="147.00" y="476.50" width="15.60" height="1.90" rx="0.90" fill="#1d1b1b"/>
<rect x="147.70" y="478.60" width="14.20" height="1.30" fill="#8a8a8a"/>
<path d="M147.40,480.20 h14.80 q0,2.50 -2.50,2.50 h-9.80 q-2.50,0 -2.50,-2.50 z" fill="#1d1b1b"/>
<polygon points="163.40,464.30 175.50,464.30 173.60,482.30 165.40,482.30" fill="#1d1b1b"/>
<line x1="173.00" y1="464.80" x2="175.30" y2="457.70" stroke="#1d1b1b" stroke-width="1.00" stroke-linecap="round"/>
<rect x="173.9" y="490.7" width="24.2" height="24.3" fill="#2b2a2a"/>
<circle cx="178.74" cy="493.50" r="1.46" fill="#fff"/><rect x="175.15" y="495.74" width="7.18" height="2.80" rx="1.08" fill="#fff"/><rect x="175.15" y="496.60" width="1.25" height="8.60" rx="0.60" fill="#fff"/><rect x="181.08" y="496.60" width="1.25" height="8.60" rx="0.60" fill="#fff"/><rect x="176.70" y="495.95" width="4.09" height="9.68" fill="#fff"/><rect x="176.70" y="504.51" width="1.76" height="9.03" fill="#fff"/><rect x="179.02" y="504.51" width="1.76" height="9.03" fill="#fff"/>
<line x1="183.58" y1="491.7" x2="183.58" y2="514.0" stroke="#ddd" stroke-width="0.7"/>
<g fill="none" stroke="#fff" stroke-width="0.80" stroke-linecap="round" stroke-linejoin="round"><circle cx="189.43" cy="501.42" r="0.98" fill="#fff" stroke="none"/><path d="M189.43,502.82 L189.43,507.32 L193.36,507.32 L194.91,511.53 L197.15,510.97 M189.43,504.79 L192.52,504.79"/><path d="M187.82,507.18 A3.93,3.93 0 1 0 194.34,510.97"/></g>
<rect x="672.0" y="287.0" width="21.3" height="22.8" fill="#2b2a2a"/>
<circle cx="676.58" cy="289.55" r="1.29" fill="#fff"/><polygon points="674.97,291.48 678.19,291.48 680.17,301.57 672.99,301.57" fill="#fff"/><path d="M674.56,291.89 L672.04,298.34 M678.60,291.89 L681.12,298.34" stroke="#fff" stroke-width="0.69" stroke-linecap="round" fill="none"/><rect x="674.80" y="301.47" width="1.45" height="6.96" fill="#fff"/><rect x="676.90" y="301.47" width="1.45" height="6.96" fill="#fff"/>
<line x1="681.80" y1="287.9" x2="681.80" y2="308.9" stroke="#ddd" stroke-width="0.7"/>
<g fill="none" stroke="#fff" stroke-width="0.80" stroke-linecap="round" stroke-linejoin="round"><circle cx="686.18" cy="297.51" r="0.82" fill="#fff" stroke="none"/><path d="M686.18,298.68 L686.18,302.43 L689.46,302.43 L690.74,305.95 L692.62,305.48 M686.18,300.32 L688.75,300.32"/><path d="M684.83,302.32 A3.28,3.28 0 1 0 690.28,305.48"/></g>
<path d="M682.00,319.80 q0,-3.60 3.60,-3.60 h7.60 q3.60,0 3.60,3.60 z" fill="#1d1b1b"/>
<rect x="681.60" y="320.50" width="15.60" height="1.90" rx="0.90" fill="#1d1b1b"/>
<rect x="682.30" y="322.60" width="14.20" height="1.30" fill="#8a8a8a"/>
<path d="M682.00,324.20 h14.80 q0,2.50 -2.50,2.50 h-9.80 q-2.50,0 -2.50,-2.50 z" fill="#1d1b1b"/>
<polygon points="698.00,308.30 710.10,308.30 708.20,326.30 700.00,326.30" fill="#1d1b1b"/>
<line x1="707.60" y1="308.80" x2="709.90" y2="301.70" stroke="#1d1b1b" stroke-width="1.00" stroke-linecap="round"/>
<rect x="699.3" y="349.7" width="23.8" height="24.2" fill="#2b2a2a"/>
<circle cx="704.06" cy="352.49" r="1.46" fill="#fff"/><rect x="700.48" y="354.71" width="7.15" height="2.78" rx="1.07" fill="#fff"/><rect x="700.48" y="355.57" width="1.24" height="8.57" rx="0.60" fill="#fff"/><rect x="706.39" y="355.57" width="1.24" height="8.57" rx="0.60" fill="#fff"/><rect x="702.03" y="354.93" width="4.07" height="9.64" fill="#fff"/><rect x="702.03" y="363.45" width="1.76" height="9.00" fill="#fff"/><rect x="704.34" y="363.45" width="1.76" height="9.00" fill="#fff"/>
<line x1="708.82" y1="350.7" x2="708.82" y2="372.9" stroke="#ddd" stroke-width="0.7"/>
<g fill="none" stroke="#fff" stroke-width="0.80" stroke-linecap="round" stroke-linejoin="round"><circle cx="714.57" cy="360.36" r="0.97" fill="#fff" stroke="none"/><path d="M714.57,361.74 L714.57,366.16 L718.44,366.16 L719.96,370.30 L722.17,369.75 M714.57,363.68 L717.61,363.68"/><path d="M712.99,366.02 A3.87,3.87 0 1 0 719.41,369.75"/></g>
<path d="M703.20,383.10 C705.40,375.10 720.40,375.10 722.60,383.10 q-3.23,-1.70 -6.47,0 q-3.23,-1.70 -6.47,0 q-3.23,-1.70 -6.46,0 z" fill="#111"/>
<line x1="713.10" y1="381.60" x2="713.10" y2="392.20" stroke="#333" stroke-width="0.90"/>
<circle cx="715.60" cy="399.40" r="4.00" fill="#fff" stroke="#111" stroke-width="1.10"/>
<path d="M711.60,401.10 h8.00 M712.80,396.60 l5.60,5.60 M718.40,396.60 l-5.60,5.60 M715.60,395.40 v8.00" stroke="#111" stroke-width="0.60" fill="none"/>
<rect x="705.10" y="391.90" width="15.50" height="7.40" fill="#111"/>
<rect x="704.20" y="391.90" width="1.50" height="11.50" fill="#111"/>
<path d="M720.20,392.80 L722.50,389.60" fill="none" stroke="#111" stroke-width="1.20" stroke-linecap="round"/>
<rect x="701.0" y="408.7" width="23.8" height="23.9" fill="#2b2a2a"/>
<circle cx="705.76" cy="411.45" r="1.44" fill="#fff"/><rect x="702.23" y="413.65" width="7.06" height="2.75" rx="1.06" fill="#fff"/><rect x="702.23" y="414.50" width="1.23" height="8.46" rx="0.59" fill="#fff"/><rect x="708.07" y="414.50" width="1.23" height="8.46" rx="0.59" fill="#fff"/><rect x="703.75" y="413.86" width="4.02" height="9.52" fill="#fff"/><rect x="703.75" y="422.28" width="1.73" height="8.88" fill="#fff"/><rect x="706.03" y="422.28" width="1.73" height="8.88" fill="#fff"/>
<line x1="710.52" y1="409.7" x2="710.52" y2="431.6" stroke="#ddd" stroke-width="0.7"/>
<g fill="none" stroke="#fff" stroke-width="0.80" stroke-linecap="round" stroke-linejoin="round"><circle cx="716.27" cy="419.24" r="0.97" fill="#fff" stroke="none"/><path d="M716.27,420.63 L716.27,425.04 L720.14,425.04 L721.66,429.18 L723.87,428.63 M716.27,422.56 L719.31,422.56"/><path d="M714.69,424.90 A3.87,3.87 0 1 0 721.11,428.63"/></g>
<path d="M689.60,455.30 q0,-3.60 3.60,-3.60 h7.60 q3.60,0 3.60,3.60 z" fill="#1d1b1b"/>
<rect x="689.20" y="456.00" width="15.60" height="1.90" rx="0.90" fill="#1d1b1b"/>
<rect x="689.90" y="458.10" width="14.20" height="1.30" fill="#8a8a8a"/>
<path d="M689.60,459.70 h14.80 q0,2.50 -2.50,2.50 h-9.80 q-2.50,0 -2.50,-2.50 z" fill="#1d1b1b"/>
<polygon points="705.60,443.80 717.70,443.80 715.80,461.80 707.60,461.80" fill="#1d1b1b"/>
<line x1="715.20" y1="444.30" x2="717.50" y2="437.20" stroke="#1d1b1b" stroke-width="1.00" stroke-linecap="round"/>
<rect x="677.3" y="471.0" width="21.8" height="23.0" fill="#2b2a2a"/>
<circle cx="681.99" cy="473.57" r="1.30" fill="#fff"/><polygon points="680.36,475.52 683.62,475.52 685.61,485.70 678.36,485.70" fill="#fff"/><path d="M679.95,475.93 L677.41,482.44 M684.02,475.93 L686.57,482.44" stroke="#fff" stroke-width="0.69" stroke-linecap="round" fill="none"/><rect x="680.20" y="485.60" width="1.47" height="7.02" fill="#fff"/><rect x="682.31" y="485.60" width="1.47" height="7.02" fill="#fff"/>
<line x1="687.33" y1="471.9" x2="687.33" y2="493.1" stroke="#ddd" stroke-width="0.7"/>
<g fill="none" stroke="#fff" stroke-width="0.80" stroke-linecap="round" stroke-linejoin="round"><circle cx="691.81" cy="481.62" r="0.84" fill="#fff" stroke="none"/><path d="M691.81,482.82 L691.81,486.66 L695.17,486.66 L696.48,490.25 L698.40,489.77 M691.81,484.50 L694.45,484.50"/><path d="M690.43,486.54 A3.36,3.36 0 1 0 696.00,489.77"/></g>
<path d="M665.00,501.80 C667.20,493.80 682.20,493.80 684.40,501.80 q-3.23,-1.70 -6.47,0 q-3.23,-1.70 -6.47,0 q-3.23,-1.70 -6.46,0 z" fill="#111"/>
<line x1="674.90" y1="500.30" x2="674.90" y2="510.90" stroke="#333" stroke-width="0.90"/>
<circle cx="677.40" cy="518.10" r="4.00" fill="#fff" stroke="#111" stroke-width="1.10"/>
<path d="M673.40,519.80 h8.00 M674.60,515.30 l5.60,5.60 M680.20,515.30 l-5.60,5.60 M677.40,514.10 v8.00" stroke="#111" stroke-width="0.60" fill="none"/>
<rect x="666.90" y="510.60" width="15.50" height="7.40" fill="#111"/>
<rect x="666.00" y="510.60" width="1.50" height="11.50" fill="#111"/>
<path d="M682.00,511.50 L684.30,508.30" fill="none" stroke="#111" stroke-width="1.20" stroke-linecap="round"/>
<rect x="643.0" y="504.0" width="18.4" height="28.3" rx="1.4" fill="#0c0c0c"/>
<circle cx="646.50" cy="507.82" r="0.82" fill="#fff"/><rect x="644.49" y="509.06" width="4.01" height="1.56" rx="0.60" fill="#fff"/><rect x="644.49" y="509.54" width="0.70" height="4.80" rx="0.34" fill="#fff"/><rect x="647.80" y="509.54" width="0.70" height="4.80" rx="0.34" fill="#fff"/><rect x="645.36" y="509.18" width="2.28" height="5.40" fill="#fff"/><rect x="645.36" y="513.96" width="0.98" height="5.04" fill="#fff"/><rect x="646.65" y="513.96" width="0.98" height="5.04" fill="#fff"/>
<circle cx="653.67" cy="507.77" r="0.77" fill="#fff"/><polygon points="652.71,508.92 654.63,508.92 655.81,514.92 651.54,514.92" fill="#fff"/><path d="M652.47,509.16 L650.97,513.00 M654.87,509.16 L656.37,513.00" stroke="#fff" stroke-width="0.41" stroke-linecap="round" fill="none"/><rect x="652.62" y="514.82" width="0.86" height="4.18" fill="#fff"/><rect x="653.86" y="514.82" width="0.86" height="4.18" fill="#fff"/>
<circle cx="650.08" cy="512.66" r="0.46" fill="#fff"/><rect x="648.95" y="513.37" width="2.27" height="0.88" rx="0.34" fill="#fff"/><rect x="648.95" y="513.64" width="0.39" height="2.72" rx="0.19" fill="#fff"/><rect x="650.83" y="513.64" width="0.39" height="2.72" rx="0.19" fill="#fff"/><rect x="649.44" y="513.44" width="1.29" height="3.06" fill="#fff"/><rect x="649.44" y="516.14" width="0.56" height="2.86" fill="#fff"/><rect x="650.17" y="516.14" width="0.56" height="2.86" fill="#fff"/>
<g fill="none" stroke="#fff" stroke-width="0.50" stroke-linecap="round" stroke-linejoin="round"><circle cx="658.12" cy="514.03" r="0.38" fill="#fff" stroke="none"/><path d="M658.12,514.57 L658.12,516.30 L659.63,516.30 L660.22,517.92 L661.09,517.70 M658.12,515.33 L659.31,515.33"/><path d="M657.50,516.25 A1.51,1.51 0 1 0 660.01,517.70"/></g>
<line x1="644.3" y1="522.3" x2="660.1" y2="522.3" stroke="#ddd" stroke-width="0.5"/>
<rect x="647.90" y="524.40" width="8.60" height="1.90" fill="#cfcfcf"/>
<rect x="645.30" y="527.40" width="13.80" height="1.90" fill="#cfcfcf"/>
<rect x="236.0" y="316.2" width="14.6" height="22.2" rx="1.4" fill="#0c0c0c"/>
<circle cx="238.77" cy="319.19" r="0.64" fill="#fff"/><rect x="237.20" y="320.17" width="3.14" height="1.22" rx="0.47" fill="#fff"/><rect x="237.20" y="320.55" width="0.55" height="3.77" rx="0.26" fill="#fff"/><rect x="239.80" y="320.55" width="0.55" height="3.77" rx="0.26" fill="#fff"/><rect x="237.88" y="320.27" width="1.79" height="4.24" fill="#fff"/><rect x="237.88" y="324.01" width="0.77" height="3.95" fill="#fff"/><rect x="238.90" y="324.01" width="0.77" height="3.95" fill="#fff"/>
<circle cx="244.47" cy="319.16" r="0.60" fill="#fff"/><polygon points="243.71,320.06 245.22,320.06 246.14,324.77 242.79,324.77" fill="#fff"/><path d="M243.53,320.25 L242.35,323.26 M245.41,320.25 L246.59,323.26" stroke="#fff" stroke-width="0.32" stroke-linecap="round" fill="none"/><rect x="243.64" y="324.67" width="0.68" height="3.30" fill="#fff"/><rect x="244.62" y="324.67" width="0.68" height="3.30" fill="#fff"/>
<circle cx="241.62" cy="323.00" r="0.36" fill="#fff"/><rect x="240.73" y="323.55" width="1.78" height="0.69" rx="0.27" fill="#fff"/><rect x="240.73" y="323.76" width="0.31" height="2.13" rx="0.15" fill="#fff"/><rect x="242.20" y="323.76" width="0.31" height="2.13" rx="0.15" fill="#fff"/><rect x="241.11" y="323.60" width="1.01" height="2.40" fill="#fff"/><rect x="241.11" y="325.73" width="0.44" height="2.24" fill="#fff"/><rect x="241.69" y="325.73" width="0.44" height="2.24" fill="#fff"/>
<g fill="none" stroke="#fff" stroke-width="0.50" stroke-linecap="round" stroke-linejoin="round"><circle cx="247.99" cy="324.07" r="0.30" fill="#fff" stroke="none"/><path d="M247.99,324.49 L247.99,325.85 L249.17,325.85 L249.64,327.12 L250.32,326.95 M247.99,325.09 L248.92,325.09"/><path d="M247.50,325.81 A1.19,1.19 0 1 0 249.47,326.95"/></g>
<line x1="237.3" y1="330.6" x2="249.3" y2="330.6" stroke="#ddd" stroke-width="0.5"/>
<rect x="239.93" y="332.20" width="6.75" height="1.49" fill="#cfcfcf"/>
<rect x="237.89" y="334.56" width="10.83" height="1.49" fill="#cfcfcf"/>
<rect x="636.2" y="364.4" width="16.6" height="17.0" fill="#2b2a2a"/>
<circle cx="639.52" cy="366.36" r="1.02" fill="#fff"/><rect x="637.01" y="367.92" width="5.03" height="1.96" rx="0.75" fill="#fff"/><rect x="637.01" y="368.52" width="0.87" height="6.02" rx="0.42" fill="#fff"/><rect x="641.16" y="368.52" width="0.87" height="6.02" rx="0.42" fill="#fff"/><rect x="638.09" y="368.07" width="2.86" height="6.77" fill="#fff"/><rect x="638.09" y="374.06" width="1.23" height="6.32" fill="#fff"/><rect x="639.72" y="374.06" width="1.23" height="6.32" fill="#fff"/>
<line x1="642.84" y1="365.1" x2="642.84" y2="380.7" stroke="#ddd" stroke-width="0.7"/>
<g fill="none" stroke="#fff" stroke-width="0.80" stroke-linecap="round" stroke-linejoin="round"><circle cx="646.85" cy="371.89" r="0.67" fill="#fff" stroke="none"/><path d="M646.85,372.85 L646.85,375.93 L649.55,375.93 L650.61,378.82 L652.15,378.43 M646.85,374.20 L648.97,374.20"/><path d="M645.75,375.83 A2.70,2.70 0 1 0 650.22,378.43"/></g>
<rect x="636.2" y="411.0" width="17.6" height="17.5" fill="#2b2a2a"/>
<circle cx="639.98" cy="412.95" r="0.99" fill="#fff"/><polygon points="638.75,414.44 641.22,414.44 642.74,422.18 637.23,422.18" fill="#fff"/><path d="M638.44,414.75 L636.50,419.71 M641.53,414.75 L643.47,419.71" stroke="#fff" stroke-width="0.53" stroke-linecap="round" fill="none"/><rect x="638.62" y="422.08" width="1.12" height="5.37" fill="#fff"/><rect x="640.23" y="422.08" width="1.12" height="5.37" fill="#fff"/>
<line x1="644.30" y1="411.7" x2="644.30" y2="427.8" stroke="#ddd" stroke-width="0.7"/>
<g fill="none" stroke="#fff" stroke-width="0.80" stroke-linecap="round" stroke-linejoin="round"><circle cx="647.91" cy="419.12" r="0.68" fill="#fff" stroke="none"/><path d="M647.91,420.09 L647.91,423.19 L650.62,423.19 L651.69,426.09 L653.24,425.71 M647.91,421.45 L650.04,421.45"/><path d="M646.80,423.09 A2.71,2.71 0 1 0 651.30,425.71"/></g>
<rect x="656.0" y="378.8" width="20.6" height="28.1" fill="#fff"/>
<path d="M656.60,385.71 C658.73,377.95 673.28,377.95 675.42,385.71 q-3.13,-1.65 -6.28,0 q-3.13,-1.65 -6.28,0 q-3.13,-1.65 -6.27,0 z" fill="#111"/>
<line x1="666.20" y1="384.26" x2="666.20" y2="394.54" stroke="#333" stroke-width="0.87"/>
<circle cx="668.63" cy="401.52" r="3.88" fill="#fff" stroke="#111" stroke-width="1.07"/>
<path d="M664.75,403.17 h7.76 M665.91,398.81 l5.43,5.43 M671.34,398.81 l-5.43,5.43 M668.63,397.64 v7.76" stroke="#111" stroke-width="0.58" fill="none"/>
<rect x="658.44" y="394.25" width="15.04" height="7.18" fill="#111"/>
<rect x="657.57" y="394.25" width="1.46" height="11.15" fill="#111"/>
<path d="M673.09,395.12 L675.32,392.02" fill="none" stroke="#111" stroke-width="1.16" stroke-linecap="round"/>
<rect x="265.8" y="536.0" width="18.4" height="28.3" rx="1.4" fill="#0c0c0c"/>
<circle cx="269.30" cy="539.82" r="0.82" fill="#fff"/><rect x="267.29" y="541.06" width="4.01" height="1.56" rx="0.60" fill="#fff"/><rect x="267.29" y="541.54" width="0.70" height="4.80" rx="0.34" fill="#fff"/><rect x="270.60" y="541.54" width="0.70" height="4.80" rx="0.34" fill="#fff"/><rect x="268.16" y="541.18" width="2.28" height="5.40" fill="#fff"/><rect x="268.16" y="545.96" width="0.98" height="5.04" fill="#fff"/><rect x="269.45" y="545.96" width="0.98" height="5.04" fill="#fff"/>
<circle cx="276.47" cy="539.77" r="0.77" fill="#fff"/><polygon points="275.51,540.92 277.43,540.92 278.61,546.92 274.34,546.92" fill="#fff"/><path d="M275.27,541.16 L273.77,545.00 M277.67,541.16 L279.17,545.00" stroke="#fff" stroke-width="0.41" stroke-linecap="round" fill="none"/><rect x="275.42" y="546.82" width="0.86" height="4.18" fill="#fff"/><rect x="276.66" y="546.82" width="0.86" height="4.18" fill="#fff"/>
<circle cx="272.88" cy="544.66" r="0.46" fill="#fff"/><rect x="271.75" y="545.37" width="2.27" height="0.88" rx="0.34" fill="#fff"/><rect x="271.75" y="545.64" width="0.39" height="2.72" rx="0.19" fill="#fff"/><rect x="273.63" y="545.64" width="0.39" height="2.72" rx="0.19" fill="#fff"/><rect x="272.24" y="545.44" width="1.29" height="3.06" fill="#fff"/><rect x="272.24" y="548.14" width="0.56" height="2.86" fill="#fff"/><rect x="272.97" y="548.14" width="0.56" height="2.86" fill="#fff"/>
<g fill="none" stroke="#fff" stroke-width="0.50" stroke-linecap="round" stroke-linejoin="round"><circle cx="280.92" cy="546.03" r="0.38" fill="#fff" stroke="none"/><path d="M280.92,546.57 L280.92,548.30 L282.43,548.30 L283.02,549.92 L283.89,549.70 M280.92,547.33 L282.11,547.33"/><path d="M280.30,548.25 A1.51,1.51 0 1 0 282.81,549.70"/></g>
<line x1="267.1" y1="554.3" x2="282.9" y2="554.3" stroke="#ddd" stroke-width="0.5"/>
<rect x="270.70" y="556.40" width="8.60" height="1.90" fill="#cfcfcf"/>
<rect x="268.10" y="559.40" width="13.80" height="1.90" fill="#cfcfcf"/>
<rect x="309.0" y="544.6" width="22.0" height="22.8" fill="#2b2a2a"/>
<circle cx="313.73" cy="547.15" r="1.29" fill="#fff"/><polygon points="312.12,549.08 315.34,549.08 317.32,559.17 310.14,559.17" fill="#fff"/><path d="M311.71,549.49 L309.19,555.94 M315.75,549.49 L318.27,555.94" stroke="#fff" stroke-width="0.69" stroke-linecap="round" fill="none"/><rect x="311.95" y="559.07" width="1.45" height="6.96" fill="#fff"/><rect x="314.05" y="559.07" width="1.45" height="6.96" fill="#fff"/>
<line x1="319.12" y1="545.5" x2="319.12" y2="566.5" stroke="#ddd" stroke-width="0.7"/>
<g fill="none" stroke="#fff" stroke-width="0.80" stroke-linecap="round" stroke-linejoin="round"><circle cx="323.64" cy="555.14" r="0.85" fill="#fff" stroke="none"/><path d="M323.64,556.35 L323.64,560.23 L327.03,560.23 L328.36,563.86 L330.30,563.37 M323.64,558.05 L326.30,558.05"/><path d="M322.25,560.11 A3.39,3.39 0 1 0 327.88,563.37"/></g>
<path d="M340.00,562.30 q0,-3.60 3.60,-3.60 h7.60 q3.60,0 3.60,3.60 z" fill="#1d1b1b"/>
<rect x="339.60" y="563.00" width="15.60" height="1.90" rx="0.90" fill="#1d1b1b"/>
<rect x="340.30" y="565.10" width="14.20" height="1.30" fill="#8a8a8a"/>
<path d="M340.00,566.70 h14.80 q0,2.50 -2.50,2.50 h-9.80 q-2.50,0 -2.50,-2.50 z" fill="#1d1b1b"/>
<polygon points="356.00,550.80 368.10,550.80 366.20,568.80 358.00,568.80" fill="#1d1b1b"/>
<line x1="365.60" y1="551.30" x2="367.90" y2="544.20" stroke="#1d1b1b" stroke-width="1.00" stroke-linecap="round"/>
<path d="M414.30,543.40 h3.60 v5.20 q0,1.80 1.70,3.20 q1.80,1.20 1.80,3.60 V572.40 q0,1.40 -1.40,1.40 h-8.20 q-1.40,0 -1.40,-1.40 V556.60 q0,-2.40 1.80,-3.60 q1.70,-1.40 1.70,-3.20 z" fill="#fff" stroke="#222" stroke-width="0.80"/>
<path d="M410.60,559.20 h10.80 M410.60,567.60 h10.80" stroke="#222" stroke-width="0.70" fill="none"/>
<path d="M420.60,562.70 h15.20 l-7.60,7.40 z" fill="#fff" stroke="#222" stroke-width="0.90" stroke-linejoin="miter"/>
<path d="M428.20,570.10 V575.80 M420.90,576.20 h14.80" stroke="#222" stroke-width="1.20" fill="none"/>
<circle cx="430.00" cy="565.60" r="1.00" fill="#222"/>
<line x1="428.60" y1="567.60" x2="432.00" y2="563.00" stroke="#222" stroke-width="0.50"/>
<path d="M461.00,556.30 C463.20,548.30 478.20,548.30 480.40,556.30 q-3.23,-1.70 -6.47,0 q-3.23,-1.70 -6.47,0 q-3.23,-1.70 -6.46,0 z" fill="#111"/>
<line x1="470.90" y1="554.80" x2="470.90" y2="565.40" stroke="#333" stroke-width="0.90"/>
<circle cx="473.40" cy="572.60" r="4.00" fill="#fff" stroke="#111" stroke-width="1.10"/>
<path d="M469.40,574.30 h8.00 M470.60,569.80 l5.60,5.60 M476.20,569.80 l-5.60,5.60 M473.40,568.60 v8.00" stroke="#111" stroke-width="0.60" fill="none"/>
<rect x="462.90" y="565.10" width="15.50" height="7.40" fill="#111"/>
<rect x="462.00" y="565.10" width="1.50" height="11.50" fill="#111"/>
<path d="M478.00,566.00 L480.30,562.80" fill="none" stroke="#111" stroke-width="1.20" stroke-linecap="round"/>
<rect x="518.0" y="544.3" width="23.6" height="23.3" fill="#2b2a2a"/>
<circle cx="522.72" cy="546.98" r="1.40" fill="#fff"/><rect x="519.28" y="549.13" width="6.89" height="2.68" rx="1.03" fill="#fff"/><rect x="519.28" y="549.95" width="1.20" height="8.25" rx="0.58" fill="#fff"/><rect x="524.97" y="549.95" width="1.20" height="8.25" rx="0.58" fill="#fff"/><rect x="520.76" y="549.33" width="3.92" height="9.28" fill="#fff"/><rect x="520.76" y="557.54" width="1.69" height="8.66" fill="#fff"/><rect x="522.99" y="557.54" width="1.69" height="8.66" fill="#fff"/>
<line x1="527.44" y1="545.2" x2="527.44" y2="566.7" stroke="#ddd" stroke-width="0.7"/>
<g fill="none" stroke="#fff" stroke-width="0.80" stroke-linecap="round" stroke-linejoin="round"><circle cx="533.15" cy="554.60" r="0.96" fill="#fff" stroke="none"/><path d="M533.15,555.97 L533.15,560.35 L536.98,560.35 L538.48,564.45 L540.67,563.91 M533.15,557.88 L536.16,557.88"/><path d="M531.57,560.21 A3.83,3.83 0 1 0 537.94,563.91"/></g>
<path d="M578.60,535.60 h9.40 v7.60 h7.80 v9.40 h-7.80 v7.60 h-9.40 v-7.60 h-7.80 v-9.40 h7.80 z" fill="#1d1b1b"/>
<text x="434.7" y="47.0" font-size="15.8" fill="#111" text-anchor="middle" font-weight="bold" textLength="121.4" lengthAdjust="spacingAndGlyphs" stroke="#111" stroke-width="0.3">Coliseum Plaza</text>
<text x="426.5" y="108.3" font-size="16.2" fill="#111" text-anchor="middle" font-weight="bold" textLength="191.0" lengthAdjust="spacingAndGlyphs" stroke="#111" stroke-width="0.3">North Lobby / Entrance</text>
<rect x="334.3" y="158.2" width="210" height="20.6" fill="#fff" stroke="#555" stroke-width="1"/>
<text x="437.0" y="173.8" font-size="16.2" fill="#111" text-anchor="middle" font-weight="bold" textLength="83.0" lengthAdjust="spacingAndGlyphs" stroke="#111" stroke-width="0.3">Box Office</text>
<text x="708.0" y="626.0" font-size="16.2" fill="#111" text-anchor="start" font-weight="bold" textLength="92.5" lengthAdjust="spacingAndGlyphs" stroke="#111" stroke-width="0.3">Bier Brewery</text>
<text x="708.0" y="648.0" font-size="16.2" fill="#111" text-anchor="start" font-weight="bold" textLength="51.5" lengthAdjust="spacingAndGlyphs" stroke="#111" stroke-width="0.3">Lounge</text>
<text x="37.0" y="689.0" font-size="10.8" fill="#111" text-anchor="start" font-weight="bold" textLength="604.5" lengthAdjust="spacingAndGlyphs" >NOTE: SEAT 1 WILL ALWAYS BE ON THE RIGHT SIDE OF EACH SECTION AS YOU ARE SITTING DOWN FACING THE ICE.</text>
<path d="M95.2,194 V225.2 M79.5,208.3 H111.3" stroke="#111" stroke-width="0.9" fill="none"/>
<text x="95.2" y="188.8" font-size="12.4" fill="#111" text-anchor="middle" font-weight="bold" textLength="9.5" lengthAdjust="spacingAndGlyphs" >N</text>
<text x="95.2" y="238.8" font-size="12.4" fill="#111" text-anchor="middle" font-weight="bold" textLength="7.0" lengthAdjust="spacingAndGlyphs" >S</text>
<text x="69.4" y="213.8" font-size="12.4" fill="#111" text-anchor="middle" font-weight="bold" textLength="12.5" lengthAdjust="spacingAndGlyphs" >W</text>
<text x="119.6" y="213.8" font-size="12.4" fill="#111" text-anchor="middle" font-weight="bold" textLength="6.6" lengthAdjust="spacingAndGlyphs" >E</text>
<text x="213.7" y="226.2" font-size="16" fill="#55873a" text-anchor="middle" font-weight="bold" letter-spacing="0.8" >320</text>
<text x="274.0" y="210.8" font-size="16" fill="#55873a" text-anchor="middle" font-weight="bold" letter-spacing="0.8" >321</text>
<text x="346.3" y="210.6" font-size="16" fill="#55873a" text-anchor="middle" font-weight="bold" letter-spacing="0.8" >322</text>
<text x="427.2" y="208.8" font-size="16" fill="#55873a" text-anchor="middle" font-weight="bold" letter-spacing="0.8" >300</text>
<text x="506.4" y="209.2" font-size="16" fill="#55873a" text-anchor="middle" font-weight="bold" letter-spacing="0.8" >301</text>
<text x="573.6" y="209.2" font-size="16" fill="#55873a" text-anchor="middle" font-weight="bold" letter-spacing="0.8" >302</text>
<text x="639.5" y="221.7" font-size="16" fill="#55873a" text-anchor="middle" font-weight="bold" letter-spacing="0.8" >303</text>
<text x="695.5" y="260.0" font-size="16" fill="#55873a" text-anchor="middle" font-weight="bold" letter-spacing="0.8" >304</text>
<text x="734.0" y="317.8" font-size="16" fill="#55873a" text-anchor="middle" font-weight="bold" letter-spacing="0.8" >305</text>
<text x="752.5" y="398.0" font-size="16" fill="#55873a" text-anchor="middle" font-weight="bold" letter-spacing="0.8" >306</text>
<text x="736.0" y="476.3" font-size="16" fill="#55873a" text-anchor="middle" font-weight="bold" letter-spacing="0.8" >307</text>
<text x="696.7" y="539.8" font-size="16" fill="#55873a" text-anchor="middle" font-weight="bold" letter-spacing="0.8" >308</text>
<text x="641.0" y="577.3" font-size="14.2" fill="#55873a" text-anchor="middle" font-weight="bold" letter-spacing="0.8" >309</text>
<text x="577.5" y="597.3" font-size="16" fill="#55873a" text-anchor="middle" font-weight="bold" letter-spacing="0.8" >310</text>
<text x="503.9" y="597.9" font-size="16" fill="#55873a" text-anchor="middle" font-weight="bold" letter-spacing="0.8" >311</text>
<text x="427.3" y="603.2" font-size="16" fill="#55873a" text-anchor="middle" font-weight="bold" letter-spacing="0.8" >312</text>
<text x="353.5" y="598.5" font-size="16" fill="#55873a" text-anchor="middle" font-weight="bold" letter-spacing="0.8" >313</text>
<text x="275.8" y="596.1" font-size="16" fill="#55873a" text-anchor="middle" font-weight="bold" letter-spacing="0.8" >314</text>
<text x="184.2" y="553.5" font-size="16" fill="#55873a" text-anchor="middle" font-weight="bold" letter-spacing="0.8" >315</text>
<text x="123.0" y="477.4" font-size="16" fill="#55873a" text-anchor="middle" font-weight="bold" letter-spacing="0.8" >316</text>
<text x="111.2" y="400.5" font-size="16" fill="#55873a" text-anchor="middle" font-weight="bold" letter-spacing="0.8" >317</text>
<text x="124.3" y="317.0" font-size="16" fill="#55873a" text-anchor="middle" font-weight="bold" letter-spacing="0.8" >318</text>
<text x="163.5" y="261.3" font-size="16" fill="#55873a" text-anchor="middle" font-weight="bold" letter-spacing="0.8" >319</text>
<text x="288.7" y="277.1" font-size="16" fill="#a67a30" text-anchor="middle" font-weight="bold" letter-spacing="0.8" >216</text>
<text x="346.0" y="283.0" font-size="16" fill="#a67a30" text-anchor="middle" font-weight="bold" letter-spacing="0.8" >217</text>
<text x="427.3" y="284.0" font-size="16" fill="#a67a30" text-anchor="middle" font-weight="bold" letter-spacing="0.8" >200</text>
<text x="512.0" y="282.5" font-size="16" fill="#a67a30" text-anchor="middle" font-weight="bold" letter-spacing="0.8" >201</text>
<text x="566.5" y="280.4" font-size="16" fill="#a67a30" text-anchor="middle" font-weight="bold" letter-spacing="0.8" >202</text>
<text x="627.2" y="300.0" font-size="16" fill="#a67a30" text-anchor="middle" font-weight="bold" letter-spacing="0.8" >203</text>
<text x="668.6" y="346.6" font-size="16" fill="#a67a30" text-anchor="middle" font-weight="bold" letter-spacing="0.8" >204</text>
<text x="668.4" y="448.6" font-size="16" fill="#a67a30" text-anchor="middle" font-weight="bold" letter-spacing="0.8" >205</text>
<text x="626.3" y="497.7" font-size="16" fill="#a67a30" text-anchor="middle" font-weight="bold" letter-spacing="0.8" >206</text>
<text x="566.5" y="519.3" font-size="16" fill="#a67a30" text-anchor="middle" font-weight="bold" letter-spacing="0.8" >207</text>
<text x="507.0" y="519.0" font-size="16" fill="#a67a30" text-anchor="middle" font-weight="bold" letter-spacing="0.8" >208</text>
<text x="427.5" y="516.0" font-size="16" fill="#a67a30" text-anchor="middle" font-weight="bold" letter-spacing="0.8" >209</text>
<text x="346.3" y="518.9" font-size="16" fill="#a67a30" text-anchor="middle" font-weight="bold" letter-spacing="0.8" >210</text>
<text x="288.5" y="521.9" font-size="16" fill="#a67a30" text-anchor="middle" font-weight="bold" letter-spacing="0.8" >211</text>
<text x="232.0" y="502.0" font-size="16" fill="#a67a30" text-anchor="middle" font-weight="bold" letter-spacing="0.8" >212</text>
<text x="190.3" y="452.6" font-size="16" fill="#a67a30" text-anchor="middle" font-weight="bold" letter-spacing="0.8" >213</text>
<text x="190.2" y="348.6" font-size="16" fill="#a67a30" text-anchor="middle" font-weight="bold" letter-spacing="0.8" >214</text>
<text x="233.0" y="302.8" font-size="16" fill="#a67a30" text-anchor="middle" font-weight="bold" letter-spacing="0.8" >215</text>
<text x="294.8" y="306.0" font-size="12.4" fill="#5b534f" text-anchor="middle" font-weight="bold" letter-spacing="0.6" >116</text>
<text x="346.6" y="313.6" font-size="16" fill="#5b534f" text-anchor="middle" font-weight="bold" letter-spacing="0.6" >117</text>
<text x="427.3" y="307.6" font-size="16" fill="#5b534f" text-anchor="middle" font-weight="bold" letter-spacing="0.6" >100</text>
<text x="510.8" y="313.4" font-size="16" fill="#5b534f" text-anchor="middle" font-weight="bold" letter-spacing="0.6" >101</text>
<text x="568.5" y="305.5" font-size="12.4" fill="#5b534f" text-anchor="middle" font-weight="bold" letter-spacing="0.6" >102</text>
<text x="593.8" y="316.1" font-size="12.2" fill="#5b534f" text-anchor="middle" font-weight="bold" letter-spacing="0.6" >103</text>
<text x="624.5" y="367.5" font-size="10" fill="#5b534f" text-anchor="middle" font-weight="bold" letter-spacing="0.6" >104</text>
<text x="624.2" y="433.4" font-size="10" fill="#5b534f" text-anchor="middle" font-weight="bold" letter-spacing="0.6" >105</text>
<text x="597.3" y="485.2" font-size="12.2" fill="#5b534f" text-anchor="middle" font-weight="bold" letter-spacing="0.6" >106</text>
<text x="565.0" y="493.2" font-size="12.6" fill="#5b534f" text-anchor="middle" font-weight="bold" letter-spacing="0.6" >107</text>
<text x="509.6" y="492.8" font-size="16" fill="#5b534f" text-anchor="middle" font-weight="bold" letter-spacing="0.6" >108</text>
<text x="428.0" y="493.8" font-size="16" fill="#5b534f" text-anchor="middle" font-weight="bold" letter-spacing="0.6" >109</text>
<text x="343.4" y="491.8" font-size="16" fill="#5b534f" text-anchor="middle" font-weight="bold" letter-spacing="0.6" >110</text>
<text x="290.3" y="492.4" font-size="12.6" fill="#5b534f" text-anchor="middle" font-weight="bold" letter-spacing="0.6" >111</text>
<text x="254.0" y="483.4" font-size="12.6" fill="#5b534f" text-anchor="middle" font-weight="bold" letter-spacing="0.6" >112</text>
<text x="236.0" y="430.2" font-size="10" fill="#5b534f" text-anchor="middle" font-weight="bold" letter-spacing="0.6" >113</text>
<text x="234.5" y="364.9" font-size="10" fill="#5b534f" text-anchor="middle" font-weight="bold" letter-spacing="0.6" >114</text>
<text x="256.6" y="314.7" font-size="12" fill="#5b534f" text-anchor="middle" font-weight="bold" letter-spacing="0.6" >115</text>
<text x="353.0" y="258.2" font-size="6.6" fill="#a67a30" text-anchor="middle" font-weight="bold" textLength="32.0" lengthAdjust="spacingAndGlyphs" >LOGE NW</text>
<text x="496.5" y="258.2" font-size="6.6" fill="#a67a30" text-anchor="middle" font-weight="bold" textLength="29.5" lengthAdjust="spacingAndGlyphs" >LOGE NE</text>
<text x="343.8" y="537.3" font-size="6.6" fill="#a67a30" text-anchor="middle" font-weight="bold" textLength="25.5" lengthAdjust="spacingAndGlyphs" >BAR SW</text>
<text x="505.0" y="538.0" font-size="6.6" fill="#a67a30" text-anchor="middle" font-weight="bold" textLength="23.5" lengthAdjust="spacingAndGlyphs" >BAR SE</text>
<circle cx="408.60" cy="186.60" r="3.90" fill="#f4f6fb" stroke="#3d5ea8" stroke-width="0.8"/>
<g fill="none" stroke="#3d5ea8" stroke-width="0.60" stroke-linecap="round"><circle cx="408.10" cy="184.40" r="0.60" fill="#3d5ea8" stroke="none"/><path d="M408.10,185.20 v1.90 h1.60 l0.70,1.40"/><path d="M407.50,186.30 a1.60,1.60 0 1 0 2.70,1.70"/></g>
<text x="431.5" y="189.1" font-size="6.9" fill="#55873a" text-anchor="middle" font-weight="bold" textLength="31.0" lengthAdjust="spacingAndGlyphs" letter-spacing="0.4" >ACC 300</text>
<circle cx="555.30" cy="186.90" r="3.90" fill="#f4f6fb" stroke="#3d5ea8" stroke-width="0.8"/>
<g fill="none" stroke="#3d5ea8" stroke-width="0.60" stroke-linecap="round"><circle cx="554.80" cy="184.70" r="0.60" fill="#3d5ea8" stroke="none"/><path d="M554.80,185.50 v1.90 h1.60 l0.70,1.40"/><path d="M554.20,186.60 a1.60,1.60 0 1 0 2.70,1.70"/></g>
<text x="577.3" y="188.4" font-size="6.9" fill="#55873a" text-anchor="middle" font-weight="bold" textLength="31.5" lengthAdjust="spacingAndGlyphs" letter-spacing="0.4" >ACC 302</text>
<circle cx="406.30" cy="258.80" r="3.90" fill="#f4f6fb" stroke="#3d5ea8" stroke-width="0.8"/>
<g fill="none" stroke="#3d5ea8" stroke-width="0.60" stroke-linecap="round"><circle cx="405.80" cy="256.60" r="0.60" fill="#3d5ea8" stroke="none"/><path d="M405.80,257.40 v1.90 h1.60 l0.70,1.40"/><path d="M405.20,258.50 a1.60,1.60 0 1 0 2.70,1.70"/></g>
<text x="430.8" y="261.3" font-size="6.9" fill="#a67a30" text-anchor="middle" font-weight="bold" textLength="31.5" lengthAdjust="spacingAndGlyphs" letter-spacing="0.4" >ACC 200</text>
<circle cx="403.20" cy="532.50" r="3.90" fill="#f4f6fb" stroke="#3d5ea8" stroke-width="0.8"/>
<g fill="none" stroke="#3d5ea8" stroke-width="0.60" stroke-linecap="round"><circle cx="402.70" cy="530.30" r="0.60" fill="#3d5ea8" stroke="none"/><path d="M402.70,531.10 v1.90 h1.60 l0.70,1.40"/><path d="M402.10,532.20 a1.60,1.60 0 1 0 2.70,1.70"/></g>
<text x="426.5" y="535.0" font-size="6.9" fill="#a67a30" text-anchor="middle" font-weight="bold" textLength="31.5" lengthAdjust="spacingAndGlyphs" letter-spacing="0.4" >ACC  209</text>
<circle cx="241.00" cy="266.70" r="3.90" fill="#f4f6fb" stroke="#3d5ea8" stroke-width="0.8"/>
<g fill="none" stroke="#3d5ea8" stroke-width="0.60" stroke-linecap="round"><circle cx="240.50" cy="264.50" r="0.60" fill="#3d5ea8" stroke="none"/><path d="M240.50,265.30 v1.90 h1.60 l0.70,1.40"/><path d="M239.90,266.40 a1.60,1.60 0 1 0 2.70,1.70"/></g>
<text x="240.3" y="277.2" font-size="6.6" fill="#a67a30" text-anchor="middle" font-weight="bold" textLength="31.0" lengthAdjust="spacingAndGlyphs" transform="rotate(-26.5 240.3 277.2)" >ACC 215</text>
<circle cx="606.60" cy="263.00" r="3.90" fill="#f4f6fb" stroke="#3d5ea8" stroke-width="0.8"/>
<g fill="none" stroke="#3d5ea8" stroke-width="0.60" stroke-linecap="round"><circle cx="606.10" cy="260.80" r="0.60" fill="#3d5ea8" stroke="none"/><path d="M606.10,261.60 v1.90 h1.60 l0.70,1.40"/><path d="M605.50,262.70 a1.60,1.60 0 1 0 2.70,1.70"/></g>
<text x="608.7" y="272.0" font-size="6.6" fill="#a67a30" text-anchor="middle" font-weight="bold" textLength="27.0" lengthAdjust="spacingAndGlyphs" transform="rotate(22 608.7 272.0)" >ACC 203</text>
<circle cx="575.00" cy="316.50" r="3.90" fill="#f4f6fb" stroke="#3d5ea8" stroke-width="0.8"/>
<g fill="none" stroke="#3d5ea8" stroke-width="0.60" stroke-linecap="round"><circle cx="574.50" cy="314.30" r="0.60" fill="#3d5ea8" stroke="none"/><path d="M574.50,315.10 v1.90 h1.60 l0.70,1.40"/><path d="M573.90,316.20 a1.60,1.60 0 1 0 2.70,1.70"/></g>
<text x="591.0" y="325.3" font-size="6.6" fill="#5b534f" text-anchor="middle" font-weight="bold" textLength="31.0" lengthAdjust="spacingAndGlyphs" transform="rotate(21 591.0 325.3)" >ACC 103</text>
<circle cx="615.30" cy="523.70" r="3.90" fill="#f4f6fb" stroke="#3d5ea8" stroke-width="0.8"/>
<g fill="none" stroke="#3d5ea8" stroke-width="0.60" stroke-linecap="round"><circle cx="614.80" cy="521.50" r="0.60" fill="#3d5ea8" stroke="none"/><path d="M614.80,522.30 v1.90 h1.60 l0.70,1.40"/><path d="M614.20,523.40 a1.60,1.60 0 1 0 2.70,1.70"/></g>
<text x="614.3" y="519.3" font-size="6.6" fill="#a67a30" text-anchor="middle" font-weight="bold" textLength="31.0" lengthAdjust="spacingAndGlyphs" transform="rotate(-26.5 614.3 519.3)" >ACC 206</text>
<text x="263.0" y="322.8" font-size="5.0" fill="#333" text-anchor="middle" font-weight="bold" textLength="9.5" lengthAdjust="spacingAndGlyphs" >Fuel</text>
<text x="263.2" y="326.8" font-size="5.0" fill="#333" text-anchor="middle" font-weight="bold" textLength="18.5" lengthAdjust="spacingAndGlyphs" >Entrance</text>
<text x="608.5" y="461.0" font-size="5.0" fill="#333" text-anchor="middle" font-weight="bold" textLength="16.6" lengthAdjust="spacingAndGlyphs" >Visitors</text>
<text x="610.0" y="467.8" font-size="5.0" fill="#333" text-anchor="middle" font-weight="bold" textLength="19.5" lengthAdjust="spacingAndGlyphs" >Entrance</text>
<text x="241.5" y="202.5" font-size="5.8" fill="#111" text-anchor="middle" font-weight="bold" >1</text>
<text x="241.8" y="227.2" font-size="5.8" fill="#111" text-anchor="middle" font-weight="bold" >A</text>
<text x="315.3" y="196.5" font-size="5.8" fill="#111" text-anchor="middle" font-weight="bold" >1</text>
<text x="307.5" y="218.0" font-size="5.8" fill="#111" text-anchor="middle" font-weight="bold" >A</text>
<text x="389.2" y="196.5" font-size="5.8" fill="#111" text-anchor="middle" font-weight="bold" >1</text>
<text x="381.5" y="214.0" font-size="5.8" fill="#111" text-anchor="middle" font-weight="bold" >A</text>
<text x="470.5" y="196.5" font-size="5.8" fill="#111" text-anchor="middle" font-weight="bold" >1</text>
<text x="464.3" y="214.0" font-size="5.8" fill="#111" text-anchor="middle" font-weight="bold" >A</text>
<text x="548.5" y="196.5" font-size="5.8" fill="#111" text-anchor="middle" font-weight="bold" >1</text>
<text x="541.3" y="217.0" font-size="5.8" fill="#111" text-anchor="middle" font-weight="bold" >A</text>
<text x="625.5" y="196.0" font-size="5.8" fill="#111" text-anchor="middle" font-weight="bold" >1</text>
<text x="606.2" y="227.6" font-size="5.8" fill="#111" text-anchor="middle" font-weight="bold" >A</text>
<text x="647.8" y="243.0" font-size="5.8" fill="#111" text-anchor="middle" font-weight="bold" >A</text>
<text x="679.8" y="224.6" font-size="5.8" fill="#111" text-anchor="middle" font-weight="bold" >1</text>
<text x="696.3" y="280.0" font-size="5.8" fill="#111" text-anchor="middle" font-weight="bold" >A</text>
<text x="729.8" y="276.8" font-size="5.8" fill="#111" text-anchor="middle" font-weight="bold" >1</text>
<text x="729.5" y="353.5" font-size="5.8" fill="#111" text-anchor="middle" font-weight="bold" >A</text>
<text x="763.3" y="355.5" font-size="5.8" fill="#111" text-anchor="middle" font-weight="bold" >1</text>
<text x="738.3" y="425.5" font-size="5.8" fill="#111" text-anchor="middle" font-weight="bold" >A</text>
<text x="760.0" y="451.0" font-size="5.8" fill="#111" text-anchor="middle" font-weight="bold" >1</text>
<text x="711.8" y="487.5" font-size="5.8" fill="#111" text-anchor="middle" font-weight="bold" >A</text>
<text x="726.0" y="515.0" font-size="5.8" fill="#111" text-anchor="middle" font-weight="bold" >1</text>
<text x="664.5" y="539.0" font-size="5.8" fill="#111" text-anchor="middle" font-weight="bold" >A</text>
<text x="668.5" y="571.5" font-size="5.8" fill="#111" text-anchor="middle" font-weight="bold" >1</text>
<text x="615.5" y="566.8" font-size="5.8" fill="#111" text-anchor="middle" font-weight="bold" >A</text>
<text x="617.0" y="597.5" font-size="5.8" fill="#111" text-anchor="middle" font-weight="bold" >1</text>
<text x="538.7" y="580.0" font-size="5.8" fill="#111" text-anchor="middle" font-weight="bold" >A</text>
<text x="530.0" y="607.0" font-size="5.8" fill="#111" text-anchor="middle" font-weight="bold" >1</text>
<text x="473.0" y="585.0" font-size="5.8" fill="#111" text-anchor="middle" font-weight="bold" >A</text>
<text x="463.8" y="607.0" font-size="5.8" fill="#111" text-anchor="middle" font-weight="bold" >1</text>
<text x="390.5" y="585.0" font-size="5.8" fill="#111" text-anchor="middle" font-weight="bold" >B</text>
<text x="383.0" y="607.0" font-size="5.8" fill="#111" text-anchor="middle" font-weight="bold" >1</text>
<text x="323.5" y="580.5" font-size="5.8" fill="#111" text-anchor="middle" font-weight="bold" >A</text>
<text x="315.5" y="607.0" font-size="5.8" fill="#111" text-anchor="middle" font-weight="bold" >1</text>
<text x="246.8" y="568.0" font-size="5.8" fill="#111" text-anchor="middle" font-weight="bold" >A</text>
<text x="228.0" y="592.0" font-size="5.8" fill="#111" text-anchor="middle" font-weight="bold" >1</text>
<text x="160.3" y="507.0" font-size="5.8" fill="#111" text-anchor="middle" font-weight="bold" >A</text>
<text x="129.0" y="511.5" font-size="5.8" fill="#111" text-anchor="middle" font-weight="bold" >1</text>
<text x="132.5" y="451.0" font-size="5.8" fill="#111" text-anchor="middle" font-weight="bold" >A</text>
<text x="100.0" y="445.5" font-size="5.8" fill="#111" text-anchor="middle" font-weight="bold" >1</text>
<text x="125.3" y="366.0" font-size="5.8" fill="#111" text-anchor="middle" font-weight="bold" >A</text>
<text x="101.0" y="343.8" font-size="5.8" fill="#111" text-anchor="middle" font-weight="bold" >1</text>
<text x="149.8" y="296.5" font-size="5.8" fill="#111" text-anchor="middle" font-weight="bold" >A</text>
<text x="134.3" y="266.2" font-size="5.8" fill="#111" text-anchor="middle" font-weight="bold" >1</text>
<text x="187.5" y="257.8" font-size="5.8" fill="#111" text-anchor="middle" font-weight="bold" >A</text>
<text x="183.5" y="228.0" font-size="5.8" fill="#111" text-anchor="middle" font-weight="bold" >1</text>
<text x="261.3" y="266.5" font-size="5.8" fill="#111" text-anchor="middle" font-weight="bold" >1</text>
<text x="263.8" y="294.8" font-size="5.8" fill="#111" text-anchor="middle" font-weight="bold" >A</text>
<text x="315.0" y="262.0" font-size="5.8" fill="#111" text-anchor="middle" font-weight="bold" >1</text>
<text x="307.5" y="290.5" font-size="5.8" fill="#111" text-anchor="middle" font-weight="bold" >A</text>
<text x="383.0" y="270.5" font-size="5.8" fill="#111" text-anchor="middle" font-weight="bold" >1</text>
<text x="376.0" y="291.5" font-size="5.8" fill="#111" text-anchor="middle" font-weight="bold" >A</text>
<text x="478.5" y="269.5" font-size="5.8" fill="#111" text-anchor="middle" font-weight="bold" >1</text>
<text x="471.5" y="291.5" font-size="5.8" fill="#111" text-anchor="middle" font-weight="bold" >A</text>
<text x="549.0" y="260.5" font-size="5.8" fill="#111" text-anchor="middle" font-weight="bold" >1</text>
<text x="541.5" y="290.8" font-size="5.8" fill="#111" text-anchor="middle" font-weight="bold" >A</text>
<text x="598.3" y="277.0" font-size="5.8" fill="#111" text-anchor="middle" font-weight="bold" >1</text>
<text x="583.0" y="294.0" font-size="5.8" fill="#111" text-anchor="middle" font-weight="bold" >A</text>
<text x="663.3" y="313.0" font-size="5.8" fill="#111" text-anchor="middle" font-weight="bold" >1</text>
<text x="634.2" y="323.2" font-size="5.8" fill="#111" text-anchor="middle" font-weight="bold" >A</text>
<text x="662.5" y="375.0" font-size="5.8" fill="#111" text-anchor="middle" font-weight="bold" >A</text>
<text x="691.0" y="420.0" font-size="5.8" fill="#111" text-anchor="middle" font-weight="bold" >1</text>
<text x="638.2" y="464.3" font-size="5.8" fill="#111" text-anchor="middle" font-weight="bold" >A</text>
<text x="657.0" y="488.0" font-size="5.8" fill="#111" text-anchor="middle" font-weight="bold" >1</text>
<text x="592.0" y="497.0" font-size="5.8" fill="#111" text-anchor="middle" font-weight="bold" >A</text>
<text x="593.0" y="527.5" font-size="5.8" fill="#111" text-anchor="middle" font-weight="bold" >1</text>
<text x="542.3" y="503.5" font-size="5.8" fill="#111" text-anchor="middle" font-weight="bold" >A</text>
<text x="534.5" y="532.0" font-size="5.8" fill="#111" text-anchor="middle" font-weight="bold" >1</text>
<text x="479.5" y="503.5" font-size="5.8" fill="#111" text-anchor="middle" font-weight="bold" >A</text>
<text x="471.8" y="525.0" font-size="5.8" fill="#111" text-anchor="middle" font-weight="bold" >1</text>
<text x="384.5" y="503.5" font-size="5.8" fill="#111" text-anchor="middle" font-weight="bold" >A</text>
<text x="376.5" y="523.0" font-size="5.8" fill="#111" text-anchor="middle" font-weight="bold" >1</text>
<text x="315.0" y="502.5" font-size="5.8" fill="#111" text-anchor="middle" font-weight="bold" >A</text>
<text x="306.3" y="533.0" font-size="5.8" fill="#111" text-anchor="middle" font-weight="bold" >1</text>
<text x="271.5" y="500.0" font-size="5.8" fill="#111" text-anchor="middle" font-weight="bold" >A</text>
<text x="252.8" y="523.0" font-size="5.8" fill="#111" text-anchor="middle" font-weight="bold" >1</text>
<text x="221.3" y="471.5" font-size="5.8" fill="#111" text-anchor="middle" font-weight="bold" >A</text>
<text x="193.5" y="479.5" font-size="5.8" fill="#111" text-anchor="middle" font-weight="bold" >1</text>
<text x="191.3" y="413.5" font-size="5.8" fill="#111" text-anchor="middle" font-weight="bold" >A</text>
<text x="166.5" y="372.5" font-size="5.8" fill="#111" text-anchor="middle" font-weight="bold" >1</text>
<text x="216.5" y="329.0" font-size="5.8" fill="#111" text-anchor="middle" font-weight="bold" >A</text>
<text x="198.3" y="304.0" font-size="5.8" fill="#111" text-anchor="middle" font-weight="bold" >1</text>
<text x="315.0" y="299.5" font-size="5.8" fill="#111" text-anchor="middle" font-weight="bold" >1</text>
<text x="307.5" y="321.0" font-size="5.8" fill="#111" text-anchor="middle" font-weight="bold" >A</text>
<text x="384.0" y="299.5" font-size="5.8" fill="#111" text-anchor="middle" font-weight="bold" >1</text>
<text x="376.0" y="321.0" font-size="5.8" fill="#111" text-anchor="middle" font-weight="bold" >A</text>
<text x="479.5" y="299.5" font-size="5.8" fill="#111" text-anchor="middle" font-weight="bold" >1</text>
<text x="472.0" y="321.0" font-size="5.8" fill="#111" text-anchor="middle" font-weight="bold" >A</text>
<text x="548.8" y="299.0" font-size="5.8" fill="#111" text-anchor="middle" font-weight="bold" >1</text>
<text x="541.8" y="321.0" font-size="5.8" fill="#111" text-anchor="middle" font-weight="bold" >A</text>
<text x="565.5" y="321.5" font-size="5.8" fill="#111" text-anchor="middle" font-weight="bold" >A</text>
<text x="272.5" y="300.5" font-size="5.8" fill="#111" text-anchor="middle" font-weight="bold" >1</text>
<text x="250.5" y="348.5" font-size="5.8" fill="#111" text-anchor="middle" font-weight="bold" >A</text>
<text x="223.5" y="381.0" font-size="5.8" fill="#111" text-anchor="middle" font-weight="bold" >1</text>
<text x="249.0" y="410.0" font-size="5.8" fill="#111" text-anchor="middle" font-weight="bold" >A</text>
<text x="232.5" y="450.0" font-size="5.8" fill="#111" text-anchor="middle" font-weight="bold" >1</text>
<text x="289.0" y="472.3" font-size="5.8" fill="#111" text-anchor="middle" font-weight="bold" >A</text>
<text x="307.5" y="495.0" font-size="5.8" fill="#111" text-anchor="middle" font-weight="bold" >1</text>
<text x="315.2" y="472.3" font-size="5.8" fill="#111" text-anchor="middle" font-weight="bold" >A</text>
<text x="376.3" y="495.0" font-size="5.8" fill="#111" text-anchor="middle" font-weight="bold" >1</text>
<text x="385.3" y="485.0" font-size="5.8" fill="#111" text-anchor="middle" font-weight="bold" >C</text>
<text x="472.0" y="495.0" font-size="5.8" fill="#111" text-anchor="middle" font-weight="bold" >1</text>
<text x="496.5" y="472.3" font-size="5.8" fill="#111" text-anchor="middle" font-weight="bold" >A</text>
<text x="534.5" y="495.0" font-size="5.8" fill="#111" text-anchor="middle" font-weight="bold" >1</text>
<text x="542.0" y="472.3" font-size="5.8" fill="#111" text-anchor="middle" font-weight="bold" >A</text>
<text x="582.0" y="492.5" font-size="5.8" fill="#111" text-anchor="middle" font-weight="bold" >1</text>
<text x="627.5" y="335.0" font-size="5.8" fill="#111" text-anchor="middle" font-weight="bold" >1</text>
<text x="611.5" y="381.0" font-size="5.8" fill="#111" text-anchor="middle" font-weight="bold" >A</text>
<text x="638.3" y="398.5" font-size="5.8" fill="#111" text-anchor="middle" font-weight="bold" >1</text>
<text x="611.5" y="443.5" font-size="5.8" fill="#111" text-anchor="middle" font-weight="bold" >A</text>
<rect x="824.5" y="268.3" width="177.3" height="321.7" fill="#fff" stroke="#3a3a3a" stroke-width="1.1"/>
<text x="909.0" y="289.5" font-size="11.6" fill="#111" text-anchor="middle" font-weight="bold" textLength="19.5" lengthAdjust="spacingAndGlyphs" >KEY</text>
<rect x="856.5" y="311.5" width="94.0" height="19.0" fill="none" stroke="#f3f3f3" stroke-width="0.8"/>
<text x="862.3" y="325.3" font-size="12" fill="#111" text-anchor="middle" font-weight="bold" >-</text>
<text x="871.0" y="325.8" font-size="12" fill="#111" text-anchor="start" font-weight="bold" textLength="54.2" lengthAdjust="spacingAndGlyphs" >ELEVATOR</text>
<rect x="856.5" y="336.0" width="94.0" height="18.5" fill="none" stroke="#f3f3f3" stroke-width="0.8"/>
<text x="862.3" y="350.3" font-size="12" fill="#111" text-anchor="middle" font-weight="bold" >-</text>
<text x="871.0" y="350.8" font-size="12" fill="#111" text-anchor="start" font-weight="bold" textLength="35.5" lengthAdjust="spacingAndGlyphs" >STAIRS</text>
<rect x="869.5" y="360.0" width="124.0" height="19.0" fill="none" stroke="#f3f3f3" stroke-width="0.8"/>
<text x="862.5" y="375.1" font-size="12" fill="#111" text-anchor="middle" font-weight="bold" >-</text>
<text x="871.0" y="375.6" font-size="12" fill="#111" text-anchor="start" font-weight="bold" textLength="106.6" lengthAdjust="spacingAndGlyphs" >CONCESSION STAND</text>
<rect x="869.5" y="386.5" width="124.0" height="18.5" fill="none" stroke="#f3f3f3" stroke-width="0.8"/>
<text x="862.5" y="400.1" font-size="12" fill="#111" text-anchor="middle" font-weight="bold" >-</text>
<text x="871.5" y="400.6" font-size="12" fill="#111" text-anchor="start" font-weight="bold" textLength="116.5" lengthAdjust="spacingAndGlyphs" >WOMEN'S RESTROOM</text>
<rect x="870.0" y="411.5" width="124.5" height="18.5" fill="none" stroke="#f3f3f3" stroke-width="0.8"/>
<text x="863.3" y="425.6" font-size="12" fill="#111" text-anchor="middle" font-weight="bold" >-</text>
<text x="872.3" y="426.1" font-size="12" fill="#111" text-anchor="start" font-weight="bold" textLength="96.7" lengthAdjust="spacingAndGlyphs" >MEN'S RESTROOM</text>
<rect x="870.0" y="437.5" width="124.5" height="18.5" fill="none" stroke="#f3f3f3" stroke-width="0.8"/>
<text x="863.3" y="451.3" font-size="12" fill="#111" text-anchor="middle" font-weight="bold" >-</text>
<text x="872.3" y="451.8" font-size="12" fill="#111" text-anchor="start" font-weight="bold" textLength="102.0" lengthAdjust="spacingAndGlyphs" >FAMILY RESTROOM</text>
<rect x="870.0" y="468.0" width="124.5" height="18.5" fill="none" stroke="#f3f3f3" stroke-width="0.8"/>
<text x="863.3" y="481.7" font-size="12" fill="#111" text-anchor="middle" font-weight="bold" >-</text>
<text x="872.3" y="482.2" font-size="12" fill="#111" text-anchor="start" font-weight="bold" textLength="97.9" lengthAdjust="spacingAndGlyphs" >CONCESSION CART</text>
<rect x="872.5" y="498.0" width="124.5" height="18.5" fill="none" stroke="#f3f3f3" stroke-width="0.8"/>
<text x="865.8" y="512.1" font-size="12" fill="#111" text-anchor="middle" font-weight="bold" >-</text>
<text x="874.8" y="512.6" font-size="12" fill="#111" text-anchor="start" font-weight="bold" textLength="67.8" lengthAdjust="spacingAndGlyphs" >CUERVO BAR</text>
<rect x="872.5" y="528.0" width="124.5" height="18.5" fill="none" stroke="#f3f3f3" stroke-width="0.8"/>
<text x="865.8" y="541.4" font-size="12" fill="#111" text-anchor="middle" font-weight="bold" >-</text>
<text x="874.8" y="541.9" font-size="12" fill="#111" text-anchor="start" font-weight="bold" textLength="49.2" lengthAdjust="spacingAndGlyphs" >FIRST AID</text>
<rect x="858.5" y="555.0" width="137.5" height="17.0" fill="none" stroke="#f3f3f3" stroke-width="0.8"/>
<text x="865.5" y="567.7" font-size="12" fill="#111" text-anchor="middle" font-weight="bold" >-</text>
<text x="874.2" y="568.2" font-size="12" fill="#111" text-anchor="start" font-weight="bold" textLength="77.8" lengthAdjust="spacingAndGlyphs" >ATM MACHINE</text>
<g fill="none" stroke="#111" stroke-width="2.50" stroke-linecap="round" stroke-linejoin="round"><path d="M837.42,298.93 V307.41 M833.18,303.93 L837.42,308.47 L841.66,303.93"/><path d="M848.18,309.23 V300.60 M843.94,304.23 L848.18,299.61 L852.42,304.23"/></g>
<rect x="833.79" y="312.49" width="18.03" height="17.62" rx="1.51" fill="#fff" stroke="#111" stroke-width="2.58"/>
<circle cx="838.10" cy="317.41" r="0.68" fill="#111"/><rect x="836.43" y="318.45" width="3.34" height="1.30" rx="0.50" fill="#111"/><rect x="836.43" y="318.85" width="0.58" height="4.00" rx="0.28" fill="#111"/><rect x="839.19" y="318.85" width="0.58" height="4.00" rx="0.28" fill="#111"/><rect x="837.15" y="318.55" width="1.90" height="4.50" fill="#111"/><rect x="837.15" y="322.53" width="0.82" height="4.20" fill="#111"/><rect x="838.23" y="322.53" width="0.82" height="4.20" fill="#111"/>
<circle cx="842.80" cy="317.37" r="0.64" fill="#111"/><polygon points="842.00,318.33 843.60,318.33 844.58,323.33 841.02,323.33" fill="#111"/><path d="M841.80,318.53 L840.55,321.73 M843.80,318.53 L845.05,321.73" stroke="#111" stroke-width="0.34" stroke-linecap="round" fill="none"/><rect x="841.92" y="323.23" width="0.72" height="3.50" fill="#111"/><rect x="842.96" y="323.23" width="0.72" height="3.50" fill="#111"/>
<circle cx="847.57" cy="317.41" r="0.68" fill="#111"/><rect x="845.90" y="318.45" width="3.34" height="1.30" rx="0.50" fill="#111"/><rect x="845.90" y="318.85" width="0.58" height="4.00" rx="0.28" fill="#111"/><rect x="848.66" y="318.85" width="0.58" height="4.00" rx="0.28" fill="#111"/><rect x="846.62" y="318.55" width="1.90" height="4.50" fill="#111"/><rect x="846.62" y="322.53" width="0.82" height="4.20" fill="#111"/><rect x="847.70" y="322.53" width="0.82" height="4.20" fill="#111"/>
<path d="M833.7,356.5 h3.76 v-4.05 h3.76 v-4.05 h3.76 v-4.05 h3.76 v-4.05 h3.76" fill="none" stroke="#111" stroke-width="1.7" stroke-linecap="square"/>
<path d="M833.20,373.60 q0,-2.88 2.88,-2.88 h6.08 q2.88,0 2.88,2.88 z" fill="#1d1b1b"/>
<rect x="832.88" y="374.16" width="12.48" height="1.52" rx="0.72" fill="#1d1b1b"/>
<rect x="833.44" y="375.84" width="11.36" height="1.04" fill="#8a8a8a"/>
<path d="M833.20,377.12 h11.84 q0,2.00 -2.00,2.00 h-7.84 q-2.00,0 -2.00,-2.00 z" fill="#1d1b1b"/>
<polygon points="846.00,364.40 855.68,364.40 854.16,378.80 847.60,378.80" fill="#1d1b1b"/>
<line x1="853.68" y1="364.80" x2="855.52" y2="359.12" stroke="#1d1b1b" stroke-width="0.80" stroke-linecap="round"/>
<rect x="836.2" y="387.2" width="16.8" height="18.0" fill="#2b2a2a"/>
<circle cx="839.81" cy="389.21" r="1.02" fill="#fff"/><polygon points="838.54,390.74 841.09,390.74 842.65,398.70 836.98,398.70" fill="#fff"/><path d="M838.22,391.06 L836.23,396.15 M841.40,391.06 L843.40,396.15" stroke="#fff" stroke-width="0.54" stroke-linecap="round" fill="none"/><rect x="838.41" y="398.60" width="1.15" height="5.52" fill="#fff"/><rect x="840.07" y="398.60" width="1.15" height="5.52" fill="#fff"/>
<line x1="843.93" y1="387.9" x2="843.93" y2="404.5" stroke="#ddd" stroke-width="0.7"/>
<g fill="none" stroke="#fff" stroke-width="0.80" stroke-linecap="round" stroke-linejoin="round"><circle cx="847.38" cy="395.50" r="0.65" fill="#fff" stroke="none"/><path d="M847.38,396.42 L847.38,399.38 L849.97,399.38 L850.98,402.15 L852.46,401.78 M847.38,397.72 L849.41,397.72"/><path d="M846.32,399.29 A2.59,2.59 0 1 0 850.61,401.78"/></g>
<rect x="836.8" y="411.2" width="17.4" height="19.2" fill="#2b2a2a"/>
<circle cx="840.28" cy="413.41" r="1.16" fill="#fff"/><rect x="837.44" y="415.18" width="5.68" height="2.21" rx="0.85" fill="#fff"/><rect x="837.44" y="415.86" width="0.99" height="6.80" rx="0.48" fill="#fff"/><rect x="842.13" y="415.86" width="0.99" height="6.80" rx="0.48" fill="#fff"/><rect x="838.67" y="415.35" width="3.23" height="7.65" fill="#fff"/><rect x="838.67" y="422.11" width="1.39" height="7.14" fill="#fff"/><rect x="840.50" y="422.11" width="1.39" height="7.14" fill="#fff"/>
<line x1="843.76" y1="412.0" x2="843.76" y2="429.6" stroke="#ddd" stroke-width="0.7"/>
<g fill="none" stroke="#fff" stroke-width="0.80" stroke-linecap="round" stroke-linejoin="round"><circle cx="847.97" cy="419.59" r="0.71" fill="#fff" stroke="none"/><path d="M847.97,420.60 L847.97,423.83 L850.79,423.83 L851.90,426.86 L853.52,426.45 M847.97,422.01 L850.19,422.01"/><path d="M846.81,423.73 A2.83,2.83 0 1 0 851.50,426.45"/></g>
<rect x="838.5" y="435.6" width="14.2" height="23.0" rx="1.4" fill="#0c0c0c"/>
<circle cx="841.20" cy="438.70" r="0.66" fill="#fff"/><rect x="839.57" y="439.72" width="3.26" height="1.27" rx="0.49" fill="#fff"/><rect x="839.57" y="440.11" width="0.57" height="3.90" rx="0.27" fill="#fff"/><rect x="842.26" y="440.11" width="0.57" height="3.90" rx="0.27" fill="#fff"/><rect x="840.27" y="439.81" width="1.85" height="4.39" fill="#fff"/><rect x="840.27" y="443.69" width="0.80" height="4.10" fill="#fff"/><rect x="841.32" y="443.69" width="0.80" height="4.10" fill="#fff"/>
<circle cx="846.74" cy="438.66" r="0.62" fill="#fff"/><polygon points="845.96,439.60 847.52,439.60 848.47,444.47 845.00,444.47" fill="#fff"/><path d="M845.76,439.79 L844.54,442.91 M847.71,439.79 L848.93,442.91" stroke="#fff" stroke-width="0.33" stroke-linecap="round" fill="none"/><rect x="845.88" y="444.37" width="0.70" height="3.42" fill="#fff"/><rect x="846.89" y="444.37" width="0.70" height="3.42" fill="#fff"/>
<circle cx="843.97" cy="442.64" r="0.38" fill="#fff"/><rect x="843.04" y="443.21" width="1.85" height="0.72" rx="0.28" fill="#fff"/><rect x="843.04" y="443.44" width="0.32" height="2.21" rx="0.15" fill="#fff"/><rect x="844.57" y="443.44" width="0.32" height="2.21" rx="0.15" fill="#fff"/><rect x="843.44" y="443.27" width="1.05" height="2.49" fill="#fff"/><rect x="843.44" y="445.47" width="0.45" height="2.32" fill="#fff"/><rect x="844.04" y="445.47" width="0.45" height="2.32" fill="#fff"/>
<g fill="none" stroke="#fff" stroke-width="0.50" stroke-linecap="round" stroke-linejoin="round"><circle cx="850.21" cy="443.75" r="0.31" fill="#fff" stroke="none"/><path d="M850.21,444.19 L850.21,445.60 L851.44,445.60 L851.93,446.91 L852.63,446.74 M850.21,444.81 L851.18,444.81"/><path d="M849.71,445.55 A1.23,1.23 0 1 0 851.75,446.74"/></g>
<line x1="839.8" y1="450.5" x2="851.4" y2="450.5" stroke="#ddd" stroke-width="0.5"/>
<rect x="842.11" y="452.18" width="6.99" height="1.54" fill="#cfcfcf"/>
<rect x="839.99" y="454.62" width="11.22" height="1.54" fill="#cfcfcf"/>
<path d="M838.60,470.44 C840.36,464.04 852.36,464.04 854.12,470.44 q-2.58,-1.36 -5.18,0 q-2.58,-1.36 -5.18,0 q-2.58,-1.36 -5.17,0 z" fill="#111"/>
<line x1="846.52" y1="469.24" x2="846.52" y2="477.72" stroke="#333" stroke-width="0.72"/>
<circle cx="848.52" cy="483.48" r="3.20" fill="#fff" stroke="#111" stroke-width="0.88"/>
<path d="M845.32,484.84 h6.40 M846.28,481.24 l4.48,4.48 M850.76,481.24 l-4.48,4.48 M848.52,480.28 v6.40" stroke="#111" stroke-width="0.48" fill="none"/>
<rect x="840.12" y="477.48" width="12.40" height="5.92" fill="#111"/>
<rect x="839.40" y="477.48" width="1.20" height="9.20" fill="#111"/>
<path d="M852.20,478.20 L854.04,475.64" fill="none" stroke="#111" stroke-width="0.96" stroke-linecap="round"/>
<path d="M840.12,492.20 h2.88 v4.16 q0,1.44 1.36,2.56 q1.44,0.96 1.44,2.88 V515.40 q0,1.12 -1.12,1.12 h-6.56 q-1.12,0 -1.12,-1.12 V502.76 q0,-1.92 1.44,-2.88 q1.36,-1.12 1.36,-2.56 z" fill="#fff" stroke="#222" stroke-width="0.64"/>
<path d="M837.16,504.84 h8.64 M837.16,511.56 h8.64" stroke="#222" stroke-width="0.56" fill="none"/>
<path d="M845.16,507.64 h12.16 l-6.08,5.92 z" fill="#fff" stroke="#222" stroke-width="0.72" stroke-linejoin="miter"/>
<path d="M851.24,513.56 V518.12 M845.40,518.44 h11.84" stroke="#222" stroke-width="0.96" fill="none"/>
<circle cx="852.68" cy="509.96" r="0.80" fill="#222"/>
<line x1="851.56" y1="511.56" x2="854.28" y2="507.88" stroke="#222" stroke-width="0.40"/>
<path d="M843.20,527.30 h7.20 v6.20 h5.70 v7.20 h-5.70 v6.20 h-7.20 v-6.20 h-5.70 v-7.20 h5.70 z" fill="#1d1b1b"/>
<rect x="838.75" y="556.35" width="14.90" height="15.28" rx="2.47" fill="#fff" stroke="#1d1b1b" stroke-width="1.50"/>
<rect x="841.29" y="558.89" width="10.03" height="5.99" fill="#2a2828"/>
<rect x="844.22" y="559.42" width="6.74" height="4.49" fill="#fff"/>
<path d="M841.29,569.68 v-3.15 a1.12,1.12 0 0 1 1.12,-1.12 h2.17 a1.12,1.12 0 0 1 1.12,1.12 v3.15 z" fill="#2a2828"/>
<path d="M842.34,569.75 v-1.65 a1.16,1.16 0 0 1 2.32,0 v1.65 z" fill="#fff"/>
<rect x="846.31" y="565.93" width="1.05" height="0.75" fill="#2a2828"/>
<rect x="846.31" y="567.36" width="1.05" height="0.75" fill="#2a2828"/>
<rect x="846.31" y="568.78" width="1.05" height="0.75" fill="#2a2828"/>
<rect x="848.26" y="565.93" width="1.05" height="0.75" fill="#2a2828"/>
<rect x="848.26" y="567.36" width="1.05" height="0.75" fill="#2a2828"/>
<rect x="848.26" y="568.78" width="1.05" height="0.75" fill="#2a2828"/>
<rect x="850.21" y="565.93" width="1.05" height="0.75" fill="#2a2828"/>
<rect x="850.21" y="567.36" width="1.05" height="0.75" fill="#2a2828"/>
<rect x="850.21" y="568.78" width="1.05" height="0.75" fill="#2a2828"/>
<text x="846.20" y="577.24" font-size="4.9" fill="#1d1b1b" text-anchor="middle" font-weight="bold" textLength="12.4" lengthAdjust="spacingAndGlyphs">ATM</text>
<circle cx="270.2" cy="311.1" r="1.0" fill="none" stroke="#222" stroke-width="0.6"/>
<circle cx="267.9" cy="479.4" r="1.0" fill="none" stroke="#222" stroke-width="0.6"/>
<circle cx="597.8" cy="317.0" r="1.0" fill="none" stroke="#222" stroke-width="0.6"/>
<circle cx="581.8" cy="478.0" r="1.0" fill="none" stroke="#222" stroke-width="0.6"/>
</svg></body></html>
